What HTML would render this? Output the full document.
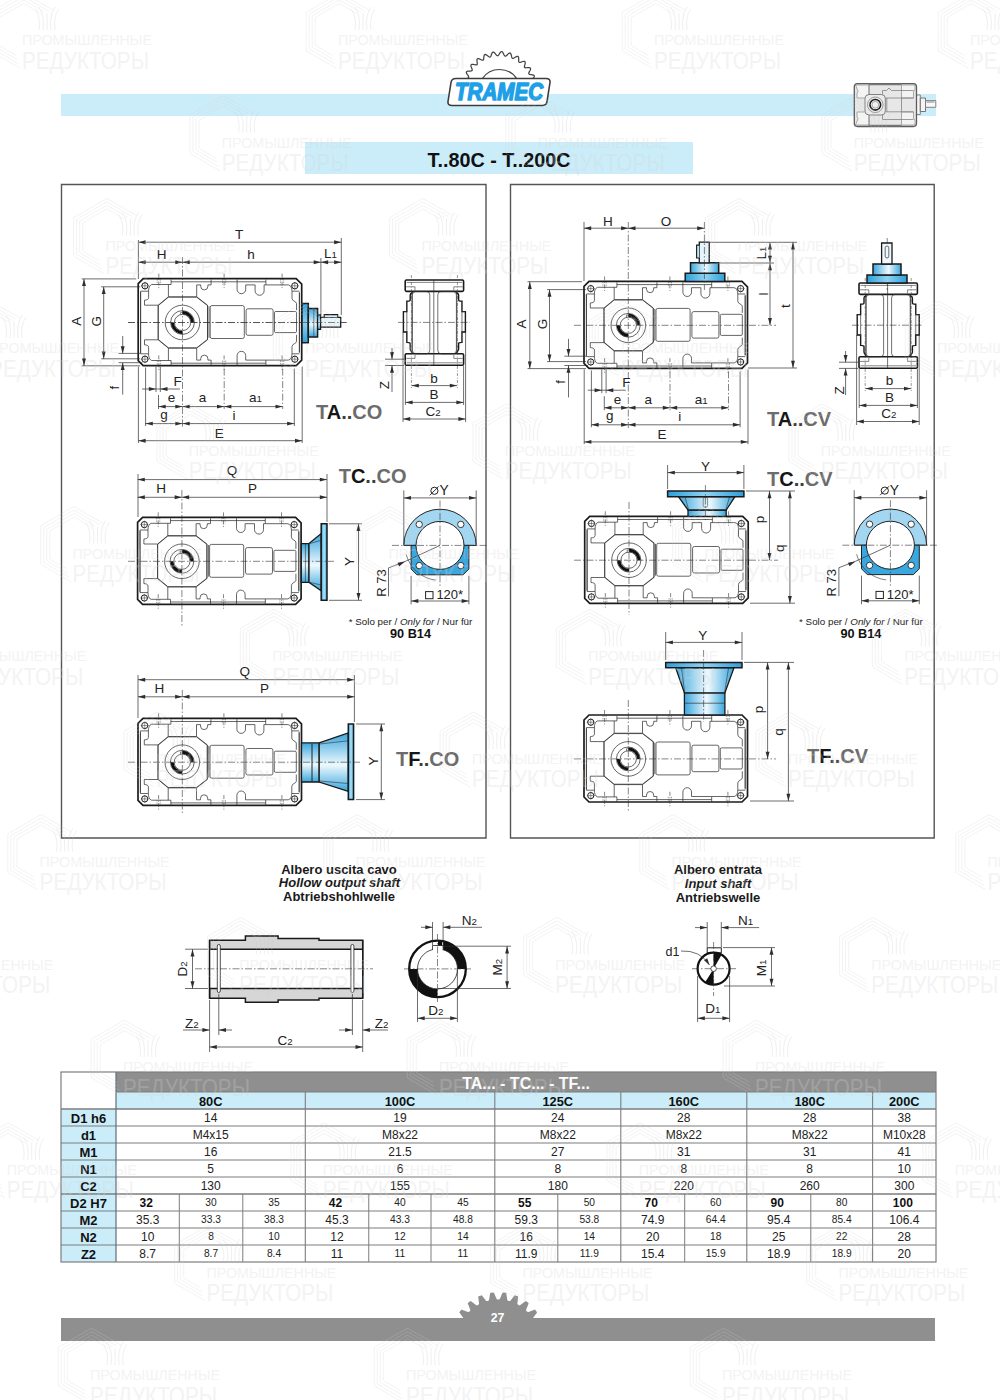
<!DOCTYPE html><html><head><meta charset="utf-8"><style>html,body{margin:0;padding:0;background:#fff;width:1000px;height:1400px;overflow:hidden}svg{display:block;font-family:"Liberation Sans",sans-serif}</style></head><body><svg width="1000" height="1400" viewBox="0 0 1000 1400"><defs><linearGradient id="gv" x1="0" y1="0" x2="0" y2="1"><stop offset="0" stop-color="#3aa6dd"/><stop offset="0.55" stop-color="#eef9fe"/><stop offset="1" stop-color="#3aa6dd"/></linearGradient><linearGradient id="gh" x1="0" y1="0" x2="1" y2="0"><stop offset="0" stop-color="#3aa6dd"/><stop offset="0.55" stop-color="#eef9fe"/><stop offset="1" stop-color="#3aa6dd"/></linearGradient><linearGradient id="gvp" x1="0" y1="0" x2="0" y2="1"><stop offset="0" stop-color="#2e9fd9"/><stop offset="0.5" stop-color="#8fd2f2"/><stop offset="1" stop-color="#2e9fd9"/></linearGradient><linearGradient id="ghp" x1="0" y1="0" x2="1" y2="0"><stop offset="0" stop-color="#2e9fd9"/><stop offset="0.5" stop-color="#8fd2f2"/><stop offset="1" stop-color="#2e9fd9"/></linearGradient><linearGradient id="gpx" x1="0" y1="0" x2="1" y2="0"><stop offset="0" stop-color="#2e9fd9"/><stop offset="0.5" stop-color="#b5e4f7"/><stop offset="1" stop-color="#2e9fd9"/></linearGradient><g id="gbody"><path d="M5,0 H158 L163.5,5.5 V81.5 L158,87 H5 L0,82 V5 Z" fill="#fff" stroke="#1c1c1c" stroke-width="1.7"/><path d="M2.4,12.6 V74.4 M161.2,13.5 V73.5 M32.9,3.2 H127.7 M13.5,5.9 H32.9 V0.9 M2.4,12.6 H10.4 M13.5,5.9 C11.2,6.6 10.4,9.5 10.4,12.6 V19.2 C10.4,21 8.5,21.4 6.3,21.6 V26.6 H20 M20,26.6 L30.2,18.2 H58.5 L69.3,26.6 V60.8 L58.5,69.2 H30.2 L20,60.8 Z M30.2,18.2 V5.9 M58.5,18.2 V6.3 H62.5 V7.7 A3.6,3.6 0 0 0 69.7,7.7 V6.3 H72.9 V0.9 M98.9,0.9 V10.8 A4.3,4.3 0 0 0 107.5,10.8 V6.3 H116.9 V12.2 A4.5,4.5 0 0 0 125.9,12.2 V6.3 H127.7 V0.9 M127.7,6.3 H150.2 C152.5,6.6 153.8,9.5 153.8,12.6 H161.2 M153.8,12.6 V19.8 C153.8,22.6 158.3,22.8 158.3,24.8 V31.5" fill="none" stroke="#333" stroke-width="0.75"/><path d="M2.4,12.6 V74.4 M161.2,13.5 V73.5 M32.9,3.2 H127.7 M13.5,5.9 H32.9 V0.9 M2.4,12.6 H10.4 M13.5,5.9 C11.2,6.6 10.4,9.5 10.4,12.6 V19.2 C10.4,21 8.5,21.4 6.3,21.6 V26.6 H20 M20,26.6 L30.2,18.2 H58.5 L69.3,26.6 V60.8 L58.5,69.2 H30.2 L20,60.8 Z M30.2,18.2 V5.9 M58.5,18.2 V6.3 H62.5 V7.7 A3.6,3.6 0 0 0 69.7,7.7 V6.3 H72.9 V0.9 M127.7,6.3 H150.2 C152.5,6.6 153.8,9.5 153.8,12.6 H161.2 M153.8,12.6 V19.8 C153.8,22.6 158.3,22.8 158.3,24.8 V31.5 M98.9,0.9 V10.8 A4.3,4.3 0 0 0 107.5,10.8 V6.3 H127.7 V0.9" fill="none" stroke="#333" stroke-width="0.75" transform="matrix(1 0 0 -1 0 87.8)"/><rect x="72" y="27" width="34.1" height="32.9" rx="1.8" fill="none" stroke="#333" stroke-width="0.75"/><path d="M70.8,27.6 V59.3" stroke="#333" stroke-width="0.75"/><rect x="107.9" y="30.2" width="27" height="26.5" rx="1.8" fill="none" stroke="#333" stroke-width="0.75"/><rect x="136.3" y="32.9" width="22" height="21.1" rx="1.2" fill="none" stroke="#333" stroke-width="0.75"/><circle cx="44.3" cy="43.9" r="17.3" fill="none" stroke="#333" stroke-width="0.75"/><circle cx="44.3" cy="43.9" r="11.9" fill="none" stroke="#333" stroke-width="0.75"/><circle cx="44.3" cy="43.9" r="8.1" fill="none" stroke="#333" stroke-width="0.75"/><path d="M42.5,36.0 V33.7 H46.099999999999994 V36.0" fill="none" stroke="#333" stroke-width="0.6"/><path d="M44.3,33.9 A10.0,10.0 0 0 1 54.3,43.9" fill="none" stroke="#111" stroke-width="2.9"/><path d="M44.3,53.9 A10.0,10.0 0 0 1 34.3,43.9" fill="none" stroke="#111" stroke-width="2.9"/><circle cx="6.75" cy="7.2" r="3.1" fill="#fff" stroke="#1c1c1c" stroke-width="1"/><path d="M2.75,7.2 H10.75 M6.75,3.2 V11.2" stroke="#333" stroke-width="0.5"/><circle cx="156.6" cy="7.2" r="3.1" fill="#fff" stroke="#1c1c1c" stroke-width="1"/><path d="M152.6,7.2 H160.6 M156.6,3.2 V11.2" stroke="#333" stroke-width="0.5"/><circle cx="6.75" cy="80.6" r="3.1" fill="#fff" stroke="#1c1c1c" stroke-width="1"/><path d="M2.75,80.6 H10.75 M6.75,76.6 V84.6" stroke="#333" stroke-width="0.5"/><circle cx="156.6" cy="80.6" r="3.1" fill="#fff" stroke="#1c1c1c" stroke-width="1"/><path d="M152.6,80.6 H160.6 M156.6,76.6 V84.6" stroke="#333" stroke-width="0.5"/><path d="M20.6,-5 V11 M20.6,76.8 V92" stroke="#333" stroke-width="0.6" stroke-dasharray="4 1.5 1 1.5"/><path d="M19.0,0.5 V6 M22.200000000000003,0.5 V6 M19.0,81.8 V87 M22.200000000000003,81.8 V87" stroke="#333" stroke-width="0.45" stroke-dasharray="1.5 1"/><path d="M85.9,-5 V11 M85.9,76.8 V92" stroke="#333" stroke-width="0.6" stroke-dasharray="4 1.5 1 1.5"/><path d="M84.30000000000001,0.5 V6 M87.5,0.5 V6 M84.30000000000001,81.8 V87 M87.5,81.8 V87" stroke="#333" stroke-width="0.45" stroke-dasharray="1.5 1"/><path d="M143.9,-5 V11 M143.9,76.8 V92" stroke="#333" stroke-width="0.6" stroke-dasharray="4 1.5 1 1.5"/><path d="M142.3,0.5 V6 M145.5,0.5 V6 M142.3,81.8 V87 M145.5,81.8 V87" stroke="#333" stroke-width="0.45" stroke-dasharray="1.5 1"/></g><g id="wm" opacity="0.27"><path d="M30.1,-21.1 L28.6,-22.0 L27.1,-22.8 L25.7,-23.7 L24.3,-24.5 L22.9,-25.3 L21.6,-26.0 L20.3,-26.8 L19.0,-27.5 L17.7,-28.3 L16.4,-29.0 L15.1,-29.8 L13.8,-30.5 L12.5,-31.3 L11.2,-32.0 L9.8,-32.8 L8.5,-33.6 L7.0,-34.4 L5.6,-35.3 L4.1,-36.1 L2.5,-37.0 L0.9,-38.0 L-0.8,-38.0 L-2.4,-37.1 L-4.0,-36.2 L-5.5,-35.3 L-7.0,-34.5 L-8.4,-33.7 L-9.8,-32.9 L-11.1,-32.1 L-12.4,-31.3 L-13.7,-30.6 L-15.0,-29.8 L-16.3,-29.1 L-17.6,-28.3 L-18.9,-27.6 L-20.2,-26.8 L-21.5,-26.1 L-22.9,-25.3 L-24.2,-24.5 L-25.6,-23.7 L-27.1,-22.9 L-28.5,-22.0 L-30.1,-21.1 L-31.7,-20.2 L-33.3,-19.2 L-33.3,-17.3 L-33.3,-15.5 L-33.3,-13.7 L-33.3,-12.0 L-33.3,-10.3 L-33.3,-8.7 L-33.3,-7.2 L-33.3,-5.6 L-33.3,-4.1 L-33.3,-2.6 L-33.3,-1.1 L-33.3,0.4 L-33.3,1.9 L-33.3,3.4 L-33.3,4.9 L-33.3,6.4 L-33.3,8.0 L-33.3,9.6 L-33.3,11.2 L-33.3,12.9 L-33.3,14.6 L-33.3,16.4 L-33.3,18.3 L-32.5,19.8 L-30.8,20.7 L-29.3,21.6 L-27.8,22.5 L-26.3,23.3 L-24.9,24.1 L-23.5,24.9 L-22.2,25.7 L-20.8,26.5 L-19.5,27.2 L-18.2,28.0 L-17.0,28.7 L-15.7,29.5 L-14.4,30.2 L-13.1,31.0 L-11.8,31.7 L-10.4,32.5 L-9.1,33.3 L-7.7,34.1 L-6.2,34.9 L-4.7,35.8 L-3.2,36.6" transform="translate(1.5 -3.5)" fill="none" stroke="#d2d2d2" stroke-width="1"/><path d="M25.2,-20.4 L24.0,-21.2 L22.7,-21.9 L21.5,-22.6 L20.3,-23.3 L19.2,-23.9 L18.0,-24.6 L16.9,-25.3 L15.7,-25.9 L14.6,-26.6 L13.5,-27.2 L12.3,-27.9 L11.2,-28.5 L10.0,-29.2 L8.8,-29.9 L7.6,-30.6 L6.4,-31.3 L5.1,-32.0 L3.8,-32.8 L2.4,-33.6 L1.0,-34.4 L-0.5,-34.7 L-1.9,-33.9 L-3.3,-33.1 L-4.7,-32.3 L-5.9,-31.6 L-7.2,-30.8 L-8.4,-30.1 L-9.6,-29.5 L-10.8,-28.8 L-11.9,-28.1 L-13.1,-27.5 L-14.2,-26.8 L-15.3,-26.1 L-16.5,-25.5 L-17.6,-24.8 L-18.8,-24.2 L-19.9,-23.5 L-21.1,-22.8 L-22.3,-22.1 L-23.5,-21.4 L-24.8,-20.7 L-26.1,-19.9 L-27.4,-19.2 L-28.8,-18.3 L-30.3,-17.5 L-30.3,-15.8 L-30.3,-14.2 L-30.3,-12.6 L-30.3,-11.1 L-30.3,-9.7 L-30.3,-8.2 L-30.3,-6.8 L-30.3,-5.5 L-30.3,-4.2 L-30.3,-2.8 L-30.3,-1.5 L-30.3,-0.2 L-30.3,1.1 L-30.3,2.4 L-30.3,3.7 L-30.3,5.1 L-30.3,6.4 L-30.3,7.8 L-30.3,9.2 L-30.3,10.6 L-30.3,12.1 L-30.3,13.7 L-30.3,15.3 L-30.3,16.9 L-29.3,18.1 L-27.9,18.9 L-26.5,19.7 L-25.2,20.5 L-23.9,21.2 L-22.7,21.9 L-21.5,22.6 L-20.3,23.3 L-19.1,24.0 L-18.0,24.6 L-16.8,25.3 L-15.7,25.9 L-14.6,26.6 L-13.4,27.2 L-12.3,27.9 L-11.2,28.6 L-10.0,29.2 L-8.8,29.9 L-7.6,30.6 L-6.4,31.3 L-5.1,32.1" transform="translate(1.5 -3.5)" fill="none" stroke="#d2d2d2" stroke-width="1"/><path d="M20.9,-19.5 L19.8,-20.1 L18.8,-20.7 L17.7,-21.3 L16.7,-21.8 L15.8,-22.4 L14.8,-23.0 L13.8,-23.5 L12.8,-24.1 L11.8,-24.7 L10.8,-25.2 L9.8,-25.8 L8.8,-26.4 L7.8,-27.0 L6.7,-27.6 L5.7,-28.2 L4.6,-28.9 L3.4,-29.5 L2.2,-30.2 L1.0,-30.9 L-0.3,-31.3 L-1.6,-30.6 L-2.8,-29.9 L-3.9,-29.2 L-5.1,-28.6 L-6.2,-27.9 L-7.2,-27.3 L-8.3,-26.7 L-9.3,-26.1 L-10.3,-25.6 L-11.3,-25.0 L-12.3,-24.4 L-13.3,-23.8 L-14.2,-23.3 L-15.2,-22.7 L-16.2,-22.1 L-17.2,-21.6 L-18.2,-21.0 L-19.2,-20.4 L-20.3,-19.8 L-21.4,-19.2 L-22.5,-18.5 L-23.6,-17.9 L-24.8,-17.2 L-26.0,-16.5 L-27.3,-15.7 L-27.3,-14.3 L-27.3,-12.9 L-27.3,-11.5 L-27.3,-10.2 L-27.3,-8.9 L-27.3,-7.7 L-27.3,-6.5 L-27.3,-5.3 L-27.3,-4.1 L-27.3,-3.0 L-27.3,-1.8 L-27.3,-0.7 L-27.3,0.4 L-27.3,1.6 L-27.3,2.7 L-27.3,3.9 L-27.3,5.0 L-27.3,6.2 L-27.3,7.4 L-27.3,8.6 L-27.3,9.9 L-27.3,11.2 L-27.3,12.5 L-27.3,13.9 L-27.3,15.4 L-26.3,16.3 L-25.1,17.0 L-23.9,17.7 L-22.7,18.4 L-21.6,19.0 L-20.5,19.6 L-19.5,20.2 L-18.5,20.8 L-17.4,21.4 L-16.4,22.0 L-15.5,22.6 L-14.5,23.1 L-13.5,23.7 L-12.5,24.3 L-11.5,24.8 L-10.5,25.4 L-9.5,26.0 L-8.5,26.6 L-7.5,27.2 L-6.4,27.8" transform="translate(1.5 -3.5)" fill="none" stroke="#d2d2d2" stroke-width="1"/><path d="M17.0,-18.2 L16.1,-18.7 L15.2,-19.2 L14.4,-19.7 L13.5,-20.2 L12.7,-20.7 L11.9,-21.2 L11.0,-21.6 L10.2,-22.1 L9.3,-22.6 L8.5,-23.1 L7.6,-23.6 L6.7,-24.1 L5.8,-24.7 L4.9,-25.2 L3.9,-25.7 L2.9,-26.3 L1.9,-26.9 L0.9,-27.5 L-0.2,-27.9 L-1.3,-27.2 L-2.4,-26.6 L-3.4,-26.1 L-4.3,-25.5 L-5.3,-25.0 L-6.2,-24.4 L-7.1,-23.9 L-8.0,-23.4 L-8.8,-22.9 L-9.7,-22.4 L-10.5,-21.9 L-11.4,-21.4 L-12.2,-20.9 L-13.1,-20.5 L-13.9,-20.0 L-14.7,-19.5 L-15.6,-19.0 L-16.5,-18.5 L-17.4,-18.0 L-18.3,-17.5 L-19.2,-16.9 L-20.1,-16.4 L-21.1,-15.8 L-22.1,-15.2 L-23.2,-14.6 L-24.2,-14.0 L-24.2,-12.7 L-24.2,-11.5 L-24.2,-10.4 L-24.2,-9.2 L-24.2,-8.1 L-24.2,-7.1 L-24.2,-6.0 L-24.2,-5.0 L-24.2,-4.0 L-24.2,-3.0 L-24.2,-2.0 L-24.2,-1.1 L-24.2,-0.1 L-24.2,0.9 L-24.2,1.8 L-24.2,2.8 L-24.2,3.8 L-24.2,4.8 L-24.2,5.8 L-24.2,6.9 L-24.2,7.9 L-24.2,9.0 L-24.2,10.1 L-24.2,11.3 L-24.2,12.5 L-24.2,13.7 L-23.4,14.5 L-22.3,15.1 L-21.3,15.7 L-20.3,16.3 L-19.4,16.8 L-18.4,17.3 L-17.5,17.9 L-16.7,18.4 L-15.8,18.9 L-14.9,19.4 L-14.1,19.9 L-13.2,20.4 L-12.4,20.8 L-11.6,21.3 L-10.7,21.8 L-9.9,22.3 L-9.0,22.8 L-8.2,23.3 L-7.3,23.8" transform="translate(1.5 -3.5)" fill="none" stroke="#d2d2d2" stroke-width="1"/><path d="M17,-5 Q19,-18 13,-26 M21,-5 Q23,-19 17,-28 M25,-5 V-22 M29,-5 Q27,-19 33,-28 M33,-5 Q31,-18 37,-26" stroke="#c9c9c9" stroke-width="1" fill="none"/><text x="0" y="10.2" font-size="15" fill="#d4d4d4" textLength="130" lengthAdjust="spacingAndGlyphs">ПРОМЫШЛЕННЫЕ</text><text x="0" y="33.6" font-size="23.5" fill="#d4d4d4" textLength="127" lengthAdjust="spacingAndGlyphs">РЕДУКТОРЫ</text></g></defs><rect x="61" y="94" width="875" height="22" fill="#cbedf9"/><rect x="305" y="142" width="388" height="32" fill="#cbedf9"/><text x="499.00" y="166.60" font-size="19.8" text-anchor="middle" font-weight="bold" font-style="normal" fill="#111">T..80C - T..200C</text><path d="M463.78,79.48 L464.35,79.08 L465.15,78.76 L466.07,78.49 L466.98,78.25 L467.78,77.99 L468.37,77.68 L468.68,77.28 L468.70,76.78 L468.45,76.16 L468.00,75.45 L467.45,74.68 L466.93,73.88 L466.52,73.12 L466.34,72.45 L466.44,71.89 L466.82,71.49 L467.47,71.23 L468.32,71.10 L469.28,71.05 L470.22,71.02 L471.06,70.96 L471.70,70.79 L472.10,70.48 L472.23,69.99 L472.13,69.33 L471.86,68.54 L471.51,67.66 L471.17,66.77 L470.96,65.93 L470.94,65.23 L471.16,64.72 L471.63,64.41 L472.32,64.31 L473.18,64.38 L474.11,64.55 L475.04,64.74 L475.87,64.87 L476.54,64.86 L476.99,64.64 L477.23,64.20 L477.29,63.54 L477.21,62.70 L477.07,61.77 L476.95,60.82 L476.93,59.96 L477.07,59.27 L477.41,58.82 L477.93,58.63 L478.63,58.70 L479.45,58.96 L480.32,59.34 L481.18,59.74 L481.96,60.06 L482.61,60.20 L483.10,60.09 L483.44,59.72 L483.64,59.09 L483.76,58.26 L483.84,57.31 L483.94,56.36 L484.12,55.52 L484.42,54.89 L484.85,54.53 L485.40,54.46 L486.07,54.69 L486.80,55.13 L487.56,55.70 L488.31,56.29 L488.99,56.78 L489.59,57.07 L490.09,57.08 L490.51,56.79 L490.85,56.22 L491.16,55.44 L491.45,54.54 L491.77,53.64 L492.14,52.87 L492.58,52.32 L493.08,52.06 L493.63,52.13 L494.23,52.50 L494.84,53.10 L495.45,53.84 L496.03,54.58 L496.59,55.21 L497.11,55.63 L497.59,55.76 L498.06,55.57 L498.53,55.10 L499.00,54.41 L499.50,53.60 L500.02,52.80 L500.56,52.13 L501.11,51.69 L501.65,51.56 L502.18,51.76 L502.67,52.25 L503.13,52.98 L503.55,53.84 L503.95,54.70 L504.34,55.44 L504.75,55.96 L505.20,56.20 L505.69,56.13 L506.26,55.78 L506.88,55.21 L507.55,54.54 L508.24,53.88 L508.92,53.35 L509.55,53.06 L510.11,53.05 L510.58,53.36 L510.94,53.96 L511.22,54.78 L511.44,55.70 L511.63,56.63 L511.84,57.45 L512.11,58.05 L512.49,58.38 L512.99,58.43 L513.62,58.22 L514.36,57.81 L515.16,57.31 L515.99,56.83 L516.77,56.47 L517.45,56.33 L518.00,56.46 L518.38,56.87 L518.60,57.53 L518.68,58.39 L518.68,59.34 L518.65,60.29 L518.67,61.13 L518.80,61.78 L519.09,62.19 L519.56,62.35 L520.23,62.29 L521.03,62.06 L521.93,61.77 L522.85,61.49 L523.69,61.32 L524.39,61.34 L524.89,61.59 L525.17,62.07 L525.23,62.77 L525.11,63.62 L524.89,64.55 L524.64,65.46 L524.46,66.29 L524.44,66.95 L524.63,67.42 L525.05,67.68 L525.71,67.77 L526.55,67.74 L527.49,67.66 L528.45,67.60 L529.30,67.63 L529.98,67.81 L530.41,68.17 L530.57,68.71 L530.47,69.40 L530.16,70.20 L529.72,71.05 L529.27,71.88 L528.91,72.64 L528.74,73.28 L528.81,73.78 L529.17,74.14 L529.78,74.38 L530.61,74.54 L531.55,74.68 L532.49,74.84 L533.31,75.07 L533.93,75.40 L534.27,75.85 L534.30,76.40 L534.04,77.06 L533.55,77.76 L532.93,78.49 L532.30,79.20" fill="none" stroke="#444" stroke-width="1.25" stroke-linejoin="round"/><path d="M482.3,78.6 A20.8,20.8 0 0 1 516.7,78.6" fill="none" stroke="#444" stroke-width="1.2"/><path d="M456,78.5 H546 Q550.5,78.5 550,82.5 L547,101.5 Q546.5,105.5 542,105.5 H452 Q447.5,105.5 448,101.5 L451,82.5 Q451.5,78.5 456,78.5 Z" fill="#fff" stroke="#3c3c3c" stroke-width="1.6"/><text x="455" y="100.2" font-size="23.5" font-weight="bold" font-style="italic" fill="#1ea0e6" stroke="#1ea0e6" stroke-width="1.5" stroke-linejoin="round" textLength="88" lengthAdjust="spacingAndGlyphs">TRAMEC</text><path d="M916.5,95 H920.3 V114.5 H916.5 Z" fill="#f7f7f7" stroke="#777" stroke-width="0.9"/><path d="M920.3,98 H925.5 V111.5 H920.3 Z" fill="#f4f4f4" stroke="#666" stroke-width="0.9"/><path d="M925.5,100.5 H935.8 V107.3 H925.5 Z" fill="#f8f8f8" stroke="#777" stroke-width="0.9"/><path d="M926.5,100.8 H934.5 V103 H926.5 Z" fill="#bdbdbd"/><rect x="854.3" y="83.6" width="62.2" height="42.9" rx="3.2" fill="#e7e7e7" stroke="#5c5c5c" stroke-width="1.3"/><path d="M869,84.4 H901.5 M869,125.7 H901.5" stroke="#777" stroke-width="1.8"/><path d="M855.5,85 H869 V98 H857 V93 Q859,92 857.5,90 Z" fill="#f4f4f4" stroke="#8a8a8a" stroke-width="0.7"/><path d="M855.5,125 H869 V112 H857 V117 Q859,118 857.5,120 Z" fill="#f4f4f4" stroke="#8a8a8a" stroke-width="0.7"/><path d="M901.5,85 H915 V90 Q913,91 913.5,93 V98 H901.5 Z" fill="#f4f4f4" stroke="#8a8a8a" stroke-width="0.7"/><path d="M901.5,125 H915 V120 Q913,119 913.5,117 V112 H901.5 Z" fill="#f4f4f4" stroke="#8a8a8a" stroke-width="0.7"/><path d="M869,84 V94.5 M869,115 V126 M882.5,94.5 V90.5 H886.5 L889,88 L891.5,90.5 H913.5 M882.5,115 V119.5 H913.5 M885.3,98 H913.5 M885.3,111.8 H913.5 M886.8,98 V111.8 M901.5,98 V111.8" fill="none" stroke="#7c7c7c" stroke-width="0.75"/><rect x="865" y="94.5" width="20.3" height="20.5" rx="4" fill="#ececec" stroke="#666" stroke-width="0.8"/><circle cx="875.3" cy="104.8" r="7.8" fill="#e9e9e9" stroke="#777" stroke-width="0.7"/><circle cx="875.3" cy="104.8" r="5.3" fill="#fff" stroke="#1a1a1a" stroke-width="1.6"/><circle cx="875.3" cy="104.8" r="3.4" fill="#f2f2f2" stroke="#555" stroke-width="0.5"/><path d="M61.5,184.5 H486 V838 H61.5 Z" fill="none" stroke="#555" stroke-width="1.4"/><path d="M510.5,184.5 H934.2 V838 H510.5 Z" fill="none" stroke="#555" stroke-width="1.4"/><use href="#gbody" x="138.20" y="278.60"/><line x1="128.00" y1="322.50" x2="347.00" y2="322.50" stroke="#333" stroke-width="0.6" stroke-dasharray="7 2 1.5 2"/><line x1="182.50" y1="257.00" x2="182.50" y2="428.00" stroke="#333" stroke-width="0.6" stroke-dasharray="7 2 1.5 2"/><path d="M302,303.5 H308.3 V342.8 H302 Z" fill="url(#gvp)" stroke="#1a1a1a" stroke-width="1.5"/><path d="M308.3,308.6 H317.6 V337.1 H308.3 Z" fill="url(#gv)" stroke="#1a1a1a" stroke-width="1.5"/><path d="M317.6,314.9 H320.6 V329.3 H317.6 Z" fill="url(#gv)" stroke="#1a1a1a" stroke-width="1.2"/><path d="M320.6,317.3 H340.7 V327.2 H320.6 Z" fill="#e8f6fc" stroke="#1a1a1a" stroke-width="1.3"/><path d="M324.2,317.3 V314.6 H337.7 V317.3" fill="#d8eef8" stroke="#1a1a1a" stroke-width="1.1"/><line x1="313.80" y1="309.00" x2="313.80" y2="336.60" stroke="#333" stroke-width="0.6"/><line x1="128.00" y1="322.50" x2="346.00" y2="322.50" stroke="#333" stroke-width="0.6" stroke-dasharray="7 2 1.5 2"/><line x1="138.40" y1="240.00" x2="138.40" y2="279.00" stroke="#2e2e2e" stroke-width="0.7"/><line x1="341.30" y1="238.00" x2="341.30" y2="315.00" stroke="#2e2e2e" stroke-width="0.7"/><line x1="320.90" y1="258.00" x2="320.90" y2="315.00" stroke="#2e2e2e" stroke-width="0.7"/><line x1="138.40" y1="242.20" x2="341.30" y2="242.20" stroke="#2e2e2e" stroke-width="0.7"/><path d="M138.40,242.20 L145.60,240.25 L145.60,244.15 Z" fill="#2e2e2e"/><path d="M341.30,242.20 L334.10,244.15 L334.10,240.25 Z" fill="#2e2e2e"/><line x1="138.40" y1="262.20" x2="182.50" y2="262.20" stroke="#2e2e2e" stroke-width="0.7"/><path d="M138.40,262.20 L145.60,260.25 L145.60,264.15 Z" fill="#2e2e2e"/><path d="M182.50,262.20 L175.30,264.15 L175.30,260.25 Z" fill="#2e2e2e"/><line x1="182.50" y1="262.20" x2="320.90" y2="262.20" stroke="#2e2e2e" stroke-width="0.7"/><path d="M182.50,262.20 L189.70,260.25 L189.70,264.15 Z" fill="#2e2e2e"/><path d="M320.90,262.20 L313.70,264.15 L313.70,260.25 Z" fill="#2e2e2e"/><line x1="320.90" y1="262.20" x2="341.30" y2="262.20" stroke="#2e2e2e" stroke-width="0.7"/><path d="M320.90,262.20 L328.10,260.25 L328.10,264.15 Z" fill="#2e2e2e"/><path d="M341.30,262.20 L334.10,264.15 L334.10,260.25 Z" fill="#2e2e2e"/><text x="239.00" y="239.30" font-size="13.5" text-anchor="middle" font-weight="normal" font-style="normal" fill="#222">T</text><text x="161.60" y="258.90" font-size="13.5" text-anchor="middle" font-weight="normal" font-style="normal" fill="#222">H</text><text x="251.00" y="258.90" font-size="13.5" text-anchor="middle" font-weight="normal" font-style="normal" fill="#222">h</text><text x="330.50" y="257.60" font-size="13.5" text-anchor="middle" fill="#222">L<tspan font-size="9.7">1</tspan></text><line x1="84.00" y1="278.90" x2="84.00" y2="365.80" stroke="#2e2e2e" stroke-width="0.7"/><path d="M84.00,278.90 L85.95,286.10 L82.05,286.10 Z" fill="#2e2e2e"/><path d="M84.00,365.80 L82.05,358.60 L85.95,358.60 Z" fill="#2e2e2e"/><line x1="81.70" y1="278.90" x2="136.20" y2="278.90" stroke="#2e2e2e" stroke-width="0.7"/><line x1="81.70" y1="365.80" x2="140.20" y2="365.80" stroke="#2e2e2e" stroke-width="0.7"/><text x="80.60" y="321.20" font-size="13.5" text-anchor="middle" font-weight="normal" font-style="normal" fill="#222" transform="rotate(-90 80.60 321.20)">A</text><line x1="103.70" y1="286.80" x2="103.70" y2="358.80" stroke="#2e2e2e" stroke-width="0.7"/><path d="M103.70,286.80 L105.65,294.00 L101.75,294.00 Z" fill="#2e2e2e"/><path d="M103.70,358.80 L101.75,351.60 L105.65,351.60 Z" fill="#2e2e2e"/><line x1="101.20" y1="286.80" x2="140.20" y2="286.80" stroke="#2e2e2e" stroke-width="0.7"/><line x1="101.20" y1="358.80" x2="140.20" y2="358.80" stroke="#2e2e2e" stroke-width="0.7"/><text x="100.70" y="321.20" font-size="13.5" text-anchor="middle" font-weight="normal" font-style="normal" fill="#222" transform="rotate(-90 100.70 321.20)">G</text><line x1="122.70" y1="336.10" x2="122.70" y2="353.40" stroke="#2e2e2e" stroke-width="0.7"/><path d="M122.70,353.40 L120.75,346.20 L124.65,346.20 Z" fill="#2e2e2e"/><line x1="122.70" y1="362.70" x2="122.70" y2="394.60" stroke="#2e2e2e" stroke-width="0.7"/><path d="M122.70,362.70 L124.65,369.90 L120.75,369.90 Z" fill="#2e2e2e"/><line x1="118.60" y1="353.40" x2="140.20" y2="353.40" stroke="#2e2e2e" stroke-width="0.7"/><line x1="118.60" y1="362.70" x2="142.20" y2="362.70" stroke="#2e2e2e" stroke-width="0.7"/><text x="118.70" y="387.60" font-size="13" text-anchor="middle" font-weight="normal" font-style="normal" fill="#222" transform="rotate(-90 118.70 387.60)">f</text><line x1="138.40" y1="366.60" x2="138.40" y2="443.00" stroke="#2e2e2e" stroke-width="0.7"/><line x1="145.60" y1="367.60" x2="145.60" y2="426.00" stroke="#2e2e2e" stroke-width="0.7"/><line x1="156.00" y1="366.60" x2="156.00" y2="392.00" stroke="#2e2e2e" stroke-width="0.7"/><line x1="160.30" y1="366.60" x2="160.30" y2="392.00" stroke="#2e2e2e" stroke-width="0.7"/><line x1="158.50" y1="395.00" x2="158.50" y2="409.00" stroke="#2e2e2e" stroke-width="0.7"/><line x1="294.30" y1="368.60" x2="294.30" y2="426.00" stroke="#2e2e2e" stroke-width="0.7"/><line x1="302.20" y1="366.60" x2="302.20" y2="443.00" stroke="#2e2e2e" stroke-width="0.7"/><line x1="224.20" y1="368.60" x2="224.20" y2="409.00" stroke="#333" stroke-width="0.6" stroke-dasharray="7 2 1.5 2"/><line x1="282.70" y1="368.60" x2="282.70" y2="409.00" stroke="#333" stroke-width="0.6" stroke-dasharray="7 2 1.5 2"/><line x1="142.00" y1="389.00" x2="180.00" y2="389.00" stroke="#2e2e2e" stroke-width="0.7"/><path d="M156.00,389.00 L148.80,390.95 L148.80,387.05 Z" fill="#2e2e2e"/><path d="M160.30,389.00 L167.50,387.05 L167.50,390.95 Z" fill="#2e2e2e"/><text x="177.50" y="385.50" font-size="13.5" text-anchor="middle" font-weight="normal" font-style="normal" fill="#222">F</text><line x1="158.50" y1="406.60" x2="182.50" y2="406.60" stroke="#2e2e2e" stroke-width="0.7"/><path d="M158.50,406.60 L165.70,404.65 L165.70,408.55 Z" fill="#2e2e2e"/><path d="M182.50,406.60 L175.30,408.55 L175.30,404.65 Z" fill="#2e2e2e"/><line x1="182.50" y1="406.60" x2="224.20" y2="406.60" stroke="#2e2e2e" stroke-width="0.7"/><path d="M182.50,406.60 L189.70,404.65 L189.70,408.55 Z" fill="#2e2e2e"/><path d="M224.20,406.60 L217.00,408.55 L217.00,404.65 Z" fill="#2e2e2e"/><line x1="224.20" y1="406.60" x2="282.70" y2="406.60" stroke="#2e2e2e" stroke-width="0.7"/><path d="M224.20,406.60 L231.40,404.65 L231.40,408.55 Z" fill="#2e2e2e"/><path d="M282.70,406.60 L275.50,408.55 L275.50,404.65 Z" fill="#2e2e2e"/><line x1="145.60" y1="423.60" x2="182.50" y2="423.60" stroke="#2e2e2e" stroke-width="0.7"/><path d="M145.60,423.60 L152.80,421.65 L152.80,425.55 Z" fill="#2e2e2e"/><path d="M182.50,423.60 L175.30,425.55 L175.30,421.65 Z" fill="#2e2e2e"/><line x1="182.50" y1="423.60" x2="294.30" y2="423.60" stroke="#2e2e2e" stroke-width="0.7"/><path d="M182.50,423.60 L189.70,421.65 L189.70,425.55 Z" fill="#2e2e2e"/><path d="M294.30,423.60 L287.10,425.55 L287.10,421.65 Z" fill="#2e2e2e"/><line x1="138.40" y1="440.70" x2="302.20" y2="440.70" stroke="#2e2e2e" stroke-width="0.7"/><path d="M138.40,440.70 L145.60,438.75 L145.60,442.65 Z" fill="#2e2e2e"/><path d="M302.20,440.70 L295.00,442.65 L295.00,438.75 Z" fill="#2e2e2e"/><text x="171.60" y="402.30" font-size="13.5" text-anchor="middle" font-weight="normal" font-style="normal" fill="#222">e</text><text x="202.40" y="402.30" font-size="13.5" text-anchor="middle" font-weight="normal" font-style="normal" fill="#222">a</text><text x="255.50" y="402.30" font-size="13.5" text-anchor="middle" fill="#222">a<tspan font-size="9.7">1</tspan></text><text x="164.00" y="419.20" font-size="13.5" text-anchor="middle" font-weight="normal" font-style="normal" fill="#222">g</text><text x="234.00" y="419.50" font-size="13.5" text-anchor="middle" font-weight="normal" font-style="normal" fill="#222">i</text><text x="219.30" y="437.80" font-size="13.5" text-anchor="middle" font-weight="normal" font-style="normal" fill="#222">E</text><g transform="translate(405.2 280)"><rect x="0" y="0" width="58.4" height="11.4" rx="1.3" fill="#fff" stroke="#1a1a1a" stroke-width="1.6"/><rect x="0" y="73.8" width="58.4" height="11.4" rx="1.3" fill="#fff" stroke="#1a1a1a" stroke-width="1.6"/><path d="M6.76,11.4 V13.2 C5,13.5 5,14 5,15 V20 C5,21 4,21.2 1.64,21.2 V31.6 H-1.8 V52 H1.64 V62.4 C4,62.4 5,62.6 5,63.6 V69 C5,70 5.5,70.5 6.76,72.4 V73.8" fill="none" stroke="#1a1a1a" stroke-width="1.4"/><path d="M6.76,11.4 V13.2 C5,13.5 5,14 5,15 V20 C5,21 4,21.2 1.64,21.2 V31.6 H-1.8 V52 H1.64 V62.4 C4,62.4 5,62.6 5,63.6 V69 C5,70 5.5,70.5 6.76,72.4 V73.8" fill="none" stroke="#1a1a1a" stroke-width="1.4" transform="matrix(-1 0 0 1 58.4 0)"/><path d="M-1.8,31.6 H1.64 V52 H-1.8 M60.2,31.6 H56.76 V52 H60.2" fill="none" stroke="#333" stroke-width="0.7"/><path d="M6.76,11.4 V73.8 M51.64,11.4 V73.8 M28.6,0 V85.2" stroke="#333" stroke-width="0.7"/><rect x="7.2" y="11.4" width="17.4" height="62.4" rx="3.5" fill="none" stroke="#333" stroke-width="0.7"/><rect x="32.6" y="11.4" width="18.6" height="62.4" rx="3.5" fill="none" stroke="#333" stroke-width="0.7"/><path d="M1,6.8 H9.8 V10.6 M57.4,6.8 H48.6 V10.6 M1,78.4 H9.8 V74.6 M57.4,78.4 H48.6 V74.6 M1.5,2.4 H57 M1.5,82.8 H57" fill="none" stroke="#333" stroke-width="0.6"/><path d="M6.2,-5 V108 M52.2,-5 V108" stroke="#444" stroke-width="0.55" stroke-dasharray="3 1.5 1 1.5"/></g><line x1="398.00" y1="322.40" x2="470.00" y2="322.40" stroke="#333" stroke-width="0.6" stroke-dasharray="7 2 1.5 2"/><line x1="392.00" y1="348.00" x2="392.00" y2="359.20" stroke="#2e2e2e" stroke-width="0.7"/><path d="M392.00,359.20 L390.05,352.00 L393.95,352.00 Z" fill="#2e2e2e"/><line x1="392.00" y1="365.50" x2="392.00" y2="392.00" stroke="#2e2e2e" stroke-width="0.7"/><path d="M392.00,365.50 L393.95,372.70 L390.05,372.70 Z" fill="#2e2e2e"/><line x1="385.00" y1="359.20" x2="404.00" y2="359.20" stroke="#2e2e2e" stroke-width="0.7"/><line x1="385.00" y1="365.50" x2="404.00" y2="365.50" stroke="#2e2e2e" stroke-width="0.7"/><text x="389.00" y="385.20" font-size="13.5" text-anchor="middle" font-weight="normal" font-style="normal" fill="#222" transform="rotate(-90 389.00 385.20)">Z</text><line x1="403.00" y1="332.00" x2="403.00" y2="422.00" stroke="#2e2e2e" stroke-width="0.7"/><line x1="465.60" y1="332.00" x2="465.60" y2="422.00" stroke="#2e2e2e" stroke-width="0.7"/><line x1="405.40" y1="366.00" x2="405.40" y2="405.00" stroke="#2e2e2e" stroke-width="0.7"/><line x1="463.60" y1="366.00" x2="463.60" y2="405.00" stroke="#2e2e2e" stroke-width="0.7"/><line x1="411.60" y1="385.60" x2="457.00" y2="385.60" stroke="#2e2e2e" stroke-width="0.7"/><path d="M411.60,385.60 L418.80,383.65 L418.80,387.55 Z" fill="#2e2e2e"/><path d="M457.00,385.60 L449.80,387.55 L449.80,383.65 Z" fill="#2e2e2e"/><line x1="405.40" y1="402.40" x2="463.60" y2="402.40" stroke="#2e2e2e" stroke-width="0.7"/><path d="M405.40,402.40 L412.60,400.45 L412.60,404.35 Z" fill="#2e2e2e"/><path d="M463.60,402.40 L456.40,404.35 L456.40,400.45 Z" fill="#2e2e2e"/><line x1="403.00" y1="419.00" x2="465.60" y2="419.00" stroke="#2e2e2e" stroke-width="0.7"/><path d="M403.00,419.00 L410.20,417.05 L410.20,420.95 Z" fill="#2e2e2e"/><path d="M465.60,419.00 L458.40,420.95 L458.40,417.05 Z" fill="#2e2e2e"/><text x="434.00" y="382.60" font-size="13.5" text-anchor="middle" font-weight="normal" font-style="normal" fill="#222">b</text><text x="434.00" y="398.80" font-size="13.5" text-anchor="middle" font-weight="normal" font-style="normal" fill="#222">B</text><text x="433.00" y="415.80" font-size="13.5" text-anchor="middle" fill="#222">C<tspan font-size="9.7">2</tspan></text><text x="316.00" y="419.00" font-size="20" font-weight="bold" fill="#6c6c6c">T<tspan fill="#161616">A</tspan><tspan fill="#3c3c3c">..</tspan>CO</text><use href="#gbody" x="137.60" y="517.40"/><line x1="181.90" y1="490.00" x2="181.90" y2="626.00" stroke="#333" stroke-width="0.6" stroke-dasharray="7 2 1.5 2"/><path d="M301.3,543.6 H309 V582.3 H301.3 Z" fill="url(#gv)" stroke="#1a1a1a" stroke-width="1.3"/><path d="M309,543.6 L321.2,533.6 V590.8 L309,582.3 Z" fill="url(#gv)" stroke="#1a1a1a" stroke-width="1.3"/><path d="M309.6,543.6 L321,540.3 M309.6,582.3 L321,585" stroke="#333" stroke-width="0.6"/><path d="M321.2,523.8 H327 V600.3 H321.2 Z" fill="url(#gpx)" stroke="#1a1a1a" stroke-width="1.5"/><line x1="305.40" y1="544.00" x2="305.40" y2="582.00" stroke="#333" stroke-width="0.6"/><line x1="138.00" y1="474.00" x2="138.00" y2="517.00" stroke="#2e2e2e" stroke-width="0.7"/><line x1="327.00" y1="474.00" x2="327.00" y2="522.00" stroke="#2e2e2e" stroke-width="0.7"/><line x1="137.60" y1="479.60" x2="327.00" y2="479.60" stroke="#2e2e2e" stroke-width="0.7"/><path d="M137.60,479.60 L144.80,477.65 L144.80,481.55 Z" fill="#2e2e2e"/><path d="M327.00,479.60 L319.80,481.55 L319.80,477.65 Z" fill="#2e2e2e"/><line x1="137.60" y1="497.30" x2="181.90" y2="497.30" stroke="#2e2e2e" stroke-width="0.7"/><path d="M137.60,497.30 L144.80,495.35 L144.80,499.25 Z" fill="#2e2e2e"/><path d="M181.90,497.30 L174.70,499.25 L174.70,495.35 Z" fill="#2e2e2e"/><line x1="181.90" y1="497.30" x2="327.00" y2="497.30" stroke="#2e2e2e" stroke-width="0.7"/><path d="M181.90,497.30 L189.10,495.35 L189.10,499.25 Z" fill="#2e2e2e"/><path d="M327.00,497.30 L319.80,499.25 L319.80,495.35 Z" fill="#2e2e2e"/><text x="232.00" y="475.00" font-size="13.5" text-anchor="middle" font-weight="normal" font-style="normal" fill="#222">Q</text><text x="161.00" y="493.00" font-size="13.5" text-anchor="middle" font-weight="normal" font-style="normal" fill="#222">H</text><text x="252.50" y="493.00" font-size="13.5" text-anchor="middle" font-weight="normal" font-style="normal" fill="#222">P</text><line x1="358.50" y1="523.80" x2="358.50" y2="600.30" stroke="#2e2e2e" stroke-width="0.7"/><path d="M358.50,523.80 L360.45,531.00 L356.55,531.00 Z" fill="#2e2e2e"/><path d="M358.50,600.30 L356.55,593.10 L360.45,593.10 Z" fill="#2e2e2e"/><line x1="329.00" y1="523.80" x2="362.00" y2="523.80" stroke="#2e2e2e" stroke-width="0.7"/><line x1="329.00" y1="600.30" x2="362.00" y2="600.30" stroke="#2e2e2e" stroke-width="0.7"/><text x="354.50" y="561.40" font-size="13.5" text-anchor="middle" font-weight="normal" font-style="normal" fill="#222" transform="rotate(-90 354.50 561.40)">Y</text><line x1="128.00" y1="561.30" x2="334.00" y2="561.30" stroke="#333" stroke-width="0.6" stroke-dasharray="7 2 1.5 2"/><text x="338.70" y="483.00" font-size="20" font-weight="bold" fill="#6c6c6c">T<tspan fill="#161616">C</tspan><tspan fill="#3c3c3c">..</tspan>CO</text><path d="M403.8,545.4 A36.2,36.2 0 0 1 476.2,545.4 Z" fill="#a3d7f1" stroke="#222" stroke-width="1"/><path d="M411.1,545.4 V569.0 L416.90000000000003,574.8 H463.09999999999997 L468.9,569.0 V545.4 Z" fill="#3ba7df" stroke="#222" stroke-width="1"/><circle cx="440" cy="545.4" r="24.0" fill="#fff" stroke="#222" stroke-width="1"/><circle cx="419.2" cy="524.4" r="3.2" fill="#fff" stroke="#222" stroke-width="0.9"/><circle cx="460.8" cy="524.4" r="3.2" fill="#fff" stroke="#222" stroke-width="0.9"/><circle cx="419.2" cy="565.6" r="3.2" fill="#fff" stroke="#222" stroke-width="0.9"/><circle cx="460.8" cy="565.6" r="3.2" fill="#fff" stroke="#222" stroke-width="0.9"/><line x1="440.00" y1="500.40" x2="440.00" y2="587.40" stroke="#333" stroke-width="0.6" stroke-dasharray="7 2 1.5 2"/><line x1="392.00" y1="545.40" x2="488.00" y2="545.40" stroke="#333" stroke-width="0.6" stroke-dasharray="7 2 1.5 2"/><line x1="403.80" y1="497.90" x2="476.20" y2="497.90" stroke="#2e2e2e" stroke-width="0.7"/><path d="M403.80,497.90 L411.00,495.95 L411.00,499.85 Z" fill="#2e2e2e"/><path d="M476.20,497.90 L469.00,499.85 L469.00,495.95 Z" fill="#2e2e2e"/><line x1="403.80" y1="490.40" x2="403.80" y2="544.40" stroke="#2e2e2e" stroke-width="0.7"/><line x1="476.20" y1="490.40" x2="476.20" y2="544.40" stroke="#2e2e2e" stroke-width="0.7"/><circle cx="434.4" cy="490.79999999999995" r="3.6" fill="none" stroke="#222" stroke-width="1"/><line x1="429.70" y1="495.40" x2="438.70" y2="486.40" stroke="#222" stroke-width="0.9"/><text x="439.40" y="495.10" font-size="13.8" text-anchor="start" font-weight="normal" font-style="normal" fill="#222">Y</text><line x1="440.00" y1="545.40" x2="404.90" y2="561.60" stroke="#2e2e2e" stroke-width="0.7"/><path d="M404.90,561.60 L399.17,566.40 L397.54,562.85 Z" fill="#2e2e2e"/><path d="M404.9,561.6 L388.5,567.9 V596.4" fill="none" stroke="#2e2e2e" stroke-width="0.7"/><path d="M406.19,554.46 A35,35 0 0 0 435.73,580.14" fill="none" stroke="#2e2e2e" stroke-width="0.6"/><text x="385.70" y="582.90" font-size="13" text-anchor="middle" font-weight="normal" font-style="normal" fill="#222" transform="rotate(-90 385.70 582.90)">R 73</text><line x1="411.10" y1="601.00" x2="468.90" y2="601.00" stroke="#2e2e2e" stroke-width="0.7"/><path d="M411.10,601.00 L418.30,599.05 L418.30,602.95 Z" fill="#2e2e2e"/><path d="M468.90,601.00 L461.70,602.95 L461.70,599.05 Z" fill="#2e2e2e"/><line x1="411.10" y1="575.80" x2="411.10" y2="604.40" stroke="#2e2e2e" stroke-width="0.7"/><line x1="468.90" y1="575.80" x2="468.90" y2="604.40" stroke="#2e2e2e" stroke-width="0.7"/><rect x="425.6" y="591.6" width="7.4" height="7.1" fill="none" stroke="#222" stroke-width="1"/><text x="436.40" y="598.70" font-size="13" text-anchor="start" font-weight="normal" font-style="normal" fill="#222">120*</text><text x="410.5" y="624.6999999999999" font-size="9.8" text-anchor="middle" fill="#222">* Solo per / <tspan font-style="italic">Only for</tspan> / Nur für</text><text x="410.50" y="638.00" font-size="12.7" text-anchor="middle" font-weight="bold" font-style="normal" fill="#111">90 B14</text><use href="#gbody" x="138.00" y="718.30"/><line x1="182.30" y1="690.00" x2="182.30" y2="815.00" stroke="#333" stroke-width="0.6" stroke-dasharray="7 2 1.5 2"/><path d="M301.5,742.9 H319.2 V782 H301.5 Z" fill="url(#gv)" stroke="#1a1a1a" stroke-width="1.3"/><line x1="312.00" y1="743.50" x2="312.00" y2="781.50" stroke="#222" stroke-width="1.0"/><path d="M319.2,742.9 L348.3,733 V791.3 L319.2,782 Z" fill="url(#gv)" stroke="#1a1a1a" stroke-width="1.3"/><path d="M319.6,744 L348,740.8 M319.6,781 L348,783.5" stroke="#333" stroke-width="0.6"/><path d="M348.3,724 H353.6 V799.6 H348.3 Z" fill="url(#gpx)" stroke="#1a1a1a" stroke-width="1.5"/><line x1="138.00" y1="675.00" x2="138.00" y2="718.00" stroke="#2e2e2e" stroke-width="0.7"/><line x1="354.40" y1="675.00" x2="354.40" y2="722.00" stroke="#2e2e2e" stroke-width="0.7"/><line x1="138.00" y1="679.70" x2="354.40" y2="679.70" stroke="#2e2e2e" stroke-width="0.7"/><path d="M138.00,679.70 L145.20,677.75 L145.20,681.65 Z" fill="#2e2e2e"/><path d="M354.40,679.70 L347.20,681.65 L347.20,677.75 Z" fill="#2e2e2e"/><line x1="138.00" y1="696.80" x2="182.30" y2="696.80" stroke="#2e2e2e" stroke-width="0.7"/><path d="M138.00,696.80 L145.20,694.85 L145.20,698.75 Z" fill="#2e2e2e"/><path d="M182.30,696.80 L175.10,698.75 L175.10,694.85 Z" fill="#2e2e2e"/><line x1="182.30" y1="696.80" x2="354.40" y2="696.80" stroke="#2e2e2e" stroke-width="0.7"/><path d="M182.30,696.80 L189.50,694.85 L189.50,698.75 Z" fill="#2e2e2e"/><path d="M354.40,696.80 L347.20,698.75 L347.20,694.85 Z" fill="#2e2e2e"/><text x="244.80" y="675.50" font-size="13.5" text-anchor="middle" font-weight="normal" font-style="normal" fill="#222">Q</text><text x="159.40" y="693.30" font-size="13.5" text-anchor="middle" font-weight="normal" font-style="normal" fill="#222">H</text><text x="264.50" y="693.30" font-size="13.5" text-anchor="middle" font-weight="normal" font-style="normal" fill="#222">P</text><line x1="381.30" y1="724.00" x2="381.30" y2="799.60" stroke="#2e2e2e" stroke-width="0.7"/><path d="M381.30,724.00 L383.25,731.20 L379.35,731.20 Z" fill="#2e2e2e"/><path d="M381.30,799.60 L379.35,792.40 L383.25,792.40 Z" fill="#2e2e2e"/><line x1="356.00" y1="724.00" x2="385.00" y2="724.00" stroke="#2e2e2e" stroke-width="0.7"/><line x1="356.00" y1="799.60" x2="385.00" y2="799.60" stroke="#2e2e2e" stroke-width="0.7"/><text x="378.00" y="761.00" font-size="13.5" text-anchor="middle" font-weight="normal" font-style="normal" fill="#222" transform="rotate(-90 378.00 761.00)">Y</text><line x1="128.00" y1="762.20" x2="362.00" y2="762.20" stroke="#333" stroke-width="0.6" stroke-dasharray="7 2 1.5 2"/><text x="396.00" y="765.50" font-size="20" font-weight="bold" fill="#6c6c6c">T<tspan fill="#161616">F</tspan><tspan fill="#3c3c3c">..</tspan>CO</text><use href="#gbody" x="584.00" y="281.40"/><line x1="574.00" y1="325.30" x2="776.00" y2="325.30" stroke="#333" stroke-width="0.6" stroke-dasharray="7 2 1.5 2"/><line x1="628.30" y1="222.00" x2="628.30" y2="428.00" stroke="#333" stroke-width="0.6" stroke-dasharray="7 2 1.5 2"/><path d="M685.1999999999999,273.29999999999995 H724.8 V281.4 H685.1999999999999 Z" fill="url(#ghp)" stroke="#1a1a1a" stroke-width="1.5"/><path d="M690.5,262.79999999999995 H718.6999999999999 V273.29999999999995 H690.5 Z" fill="url(#gh)" stroke="#1a1a1a" stroke-width="1.5"/><path d="M699.3,242.09999999999997 H709.1999999999999 V262.79999999999995 H699.3 Z" fill="#e6f5fc" stroke="#1a1a1a" stroke-width="1.3"/><path d="M699.3,245.09999999999997 H696.6 V258.0 H699.3" fill="#bfe6f7" stroke="#1a1a1a" stroke-width="1.1"/><line x1="704.40" y1="222.00" x2="704.40" y2="290.00" stroke="#333" stroke-width="0.6" stroke-dasharray="7 2 1.5 2"/><line x1="584.00" y1="222.00" x2="584.00" y2="281.00" stroke="#2e2e2e" stroke-width="0.7"/><line x1="584.00" y1="228.20" x2="628.30" y2="228.20" stroke="#2e2e2e" stroke-width="0.7"/><path d="M584.00,228.20 L591.20,226.25 L591.20,230.15 Z" fill="#2e2e2e"/><path d="M628.30,228.20 L621.10,230.15 L621.10,226.25 Z" fill="#2e2e2e"/><line x1="628.30" y1="228.20" x2="704.40" y2="228.20" stroke="#2e2e2e" stroke-width="0.7"/><path d="M628.30,228.20 L635.50,226.25 L635.50,230.15 Z" fill="#2e2e2e"/><path d="M704.40,228.20 L697.20,230.15 L697.20,226.25 Z" fill="#2e2e2e"/><text x="607.80" y="225.80" font-size="13.5" text-anchor="middle" font-weight="normal" font-style="normal" fill="#222">H</text><text x="666.00" y="225.80" font-size="13.5" text-anchor="middle" font-weight="normal" font-style="normal" fill="#222">O</text><line x1="710.00" y1="242.30" x2="797.00" y2="242.30" stroke="#2e2e2e" stroke-width="0.7"/><line x1="719.50" y1="263.00" x2="774.00" y2="263.00" stroke="#2e2e2e" stroke-width="0.7"/><line x1="748.00" y1="368.00" x2="797.00" y2="368.00" stroke="#2e2e2e" stroke-width="0.7"/><line x1="770.00" y1="242.30" x2="770.00" y2="263.00" stroke="#2e2e2e" stroke-width="0.7"/><path d="M770.00,242.30 L771.95,249.50 L768.05,249.50 Z" fill="#2e2e2e"/><path d="M770.00,263.00 L768.05,255.80 L771.95,255.80 Z" fill="#2e2e2e"/><line x1="770.00" y1="263.00" x2="770.00" y2="325.30" stroke="#2e2e2e" stroke-width="0.7"/><path d="M770.00,263.00 L771.95,270.20 L768.05,270.20 Z" fill="#2e2e2e"/><path d="M770.00,325.30 L768.05,318.10 L771.95,318.10 Z" fill="#2e2e2e"/><line x1="793.00" y1="242.30" x2="793.00" y2="368.00" stroke="#2e2e2e" stroke-width="0.7"/><path d="M793.00,242.30 L794.95,249.50 L791.05,249.50 Z" fill="#2e2e2e"/><path d="M793.00,368.00 L791.05,360.80 L794.95,360.80 Z" fill="#2e2e2e"/><text x="766.00" y="253.00" font-size="13" text-anchor="middle" fill="#222" transform="rotate(-90 766.00 253.00)">L<tspan font-size="9.4">1</tspan></text><text x="768.00" y="294.00" font-size="13.5" text-anchor="middle" font-weight="normal" font-style="normal" fill="#222" transform="rotate(-90 768.00 294.00)">l</text><text x="789.50" y="306.00" font-size="13.5" text-anchor="middle" font-weight="normal" font-style="normal" fill="#222" transform="rotate(-90 789.50 306.00)">t</text><line x1="529.80" y1="281.70" x2="529.80" y2="368.60" stroke="#2e2e2e" stroke-width="0.7"/><path d="M529.80,281.70 L531.75,288.90 L527.85,288.90 Z" fill="#2e2e2e"/><path d="M529.80,368.60 L527.85,361.40 L531.75,361.40 Z" fill="#2e2e2e"/><line x1="527.50" y1="281.70" x2="582.00" y2="281.70" stroke="#2e2e2e" stroke-width="0.7"/><line x1="527.50" y1="368.60" x2="586.00" y2="368.60" stroke="#2e2e2e" stroke-width="0.7"/><text x="526.40" y="324.00" font-size="13.5" text-anchor="middle" font-weight="normal" font-style="normal" fill="#222" transform="rotate(-90 526.40 324.00)">A</text><line x1="549.50" y1="289.60" x2="549.50" y2="361.60" stroke="#2e2e2e" stroke-width="0.7"/><path d="M549.50,289.60 L551.45,296.80 L547.55,296.80 Z" fill="#2e2e2e"/><path d="M549.50,361.60 L547.55,354.40 L551.45,354.40 Z" fill="#2e2e2e"/><line x1="547.00" y1="289.60" x2="586.00" y2="289.60" stroke="#2e2e2e" stroke-width="0.7"/><line x1="547.00" y1="361.60" x2="586.00" y2="361.60" stroke="#2e2e2e" stroke-width="0.7"/><text x="546.50" y="324.00" font-size="13.5" text-anchor="middle" font-weight="normal" font-style="normal" fill="#222" transform="rotate(-90 546.50 324.00)">G</text><line x1="568.50" y1="338.90" x2="568.50" y2="356.20" stroke="#2e2e2e" stroke-width="0.7"/><path d="M568.50,356.20 L566.55,349.00 L570.45,349.00 Z" fill="#2e2e2e"/><line x1="568.50" y1="365.50" x2="568.50" y2="397.40" stroke="#2e2e2e" stroke-width="0.7"/><path d="M568.50,365.50 L570.45,372.70 L566.55,372.70 Z" fill="#2e2e2e"/><line x1="564.40" y1="356.20" x2="586.00" y2="356.20" stroke="#2e2e2e" stroke-width="0.7"/><line x1="564.40" y1="365.50" x2="588.00" y2="365.50" stroke="#2e2e2e" stroke-width="0.7"/><text x="564.50" y="382.00" font-size="13" text-anchor="middle" font-weight="normal" font-style="normal" fill="#222" transform="rotate(-90 564.50 382.00)">f</text><line x1="584.20" y1="369.40" x2="584.20" y2="444.20" stroke="#2e2e2e" stroke-width="0.7"/><line x1="591.40" y1="370.40" x2="591.40" y2="427.20" stroke="#2e2e2e" stroke-width="0.7"/><line x1="601.80" y1="369.40" x2="601.80" y2="393.20" stroke="#2e2e2e" stroke-width="0.7"/><line x1="606.10" y1="369.40" x2="606.10" y2="393.20" stroke="#2e2e2e" stroke-width="0.7"/><line x1="604.30" y1="396.20" x2="604.30" y2="410.20" stroke="#2e2e2e" stroke-width="0.7"/><line x1="740.10" y1="371.40" x2="740.10" y2="427.20" stroke="#2e2e2e" stroke-width="0.7"/><line x1="748.00" y1="369.40" x2="748.00" y2="444.20" stroke="#2e2e2e" stroke-width="0.7"/><line x1="670.00" y1="371.40" x2="670.00" y2="410.20" stroke="#333" stroke-width="0.6" stroke-dasharray="7 2 1.5 2"/><line x1="728.50" y1="371.40" x2="728.50" y2="410.20" stroke="#333" stroke-width="0.6" stroke-dasharray="7 2 1.5 2"/><line x1="587.80" y1="390.20" x2="625.80" y2="390.20" stroke="#2e2e2e" stroke-width="0.7"/><path d="M601.80,390.20 L594.60,392.15 L594.60,388.25 Z" fill="#2e2e2e"/><path d="M606.10,390.20 L613.30,388.25 L613.30,392.15 Z" fill="#2e2e2e"/><text x="626.30" y="386.70" font-size="13.5" text-anchor="middle" font-weight="normal" font-style="normal" fill="#222">F</text><line x1="604.30" y1="407.80" x2="628.30" y2="407.80" stroke="#2e2e2e" stroke-width="0.7"/><path d="M604.30,407.80 L611.50,405.85 L611.50,409.75 Z" fill="#2e2e2e"/><path d="M628.30,407.80 L621.10,409.75 L621.10,405.85 Z" fill="#2e2e2e"/><line x1="628.30" y1="407.80" x2="670.00" y2="407.80" stroke="#2e2e2e" stroke-width="0.7"/><path d="M628.30,407.80 L635.50,405.85 L635.50,409.75 Z" fill="#2e2e2e"/><path d="M670.00,407.80 L662.80,409.75 L662.80,405.85 Z" fill="#2e2e2e"/><line x1="670.00" y1="407.80" x2="728.50" y2="407.80" stroke="#2e2e2e" stroke-width="0.7"/><path d="M670.00,407.80 L677.20,405.85 L677.20,409.75 Z" fill="#2e2e2e"/><path d="M728.50,407.80 L721.30,409.75 L721.30,405.85 Z" fill="#2e2e2e"/><line x1="591.40" y1="424.80" x2="628.30" y2="424.80" stroke="#2e2e2e" stroke-width="0.7"/><path d="M591.40,424.80 L598.60,422.85 L598.60,426.75 Z" fill="#2e2e2e"/><path d="M628.30,424.80 L621.10,426.75 L621.10,422.85 Z" fill="#2e2e2e"/><line x1="628.30" y1="424.80" x2="740.10" y2="424.80" stroke="#2e2e2e" stroke-width="0.7"/><path d="M628.30,424.80 L635.50,422.85 L635.50,426.75 Z" fill="#2e2e2e"/><path d="M740.10,424.80 L732.90,426.75 L732.90,422.85 Z" fill="#2e2e2e"/><line x1="584.20" y1="441.90" x2="748.00" y2="441.90" stroke="#2e2e2e" stroke-width="0.7"/><path d="M584.20,441.90 L591.40,439.95 L591.40,443.85 Z" fill="#2e2e2e"/><path d="M748.00,441.90 L740.80,443.85 L740.80,439.95 Z" fill="#2e2e2e"/><text x="617.40" y="403.50" font-size="13.5" text-anchor="middle" font-weight="normal" font-style="normal" fill="#222">e</text><text x="648.20" y="403.50" font-size="13.5" text-anchor="middle" font-weight="normal" font-style="normal" fill="#222">a</text><text x="701.30" y="403.50" font-size="13.5" text-anchor="middle" fill="#222">a<tspan font-size="9.7">1</tspan></text><text x="609.80" y="420.40" font-size="13.5" text-anchor="middle" font-weight="normal" font-style="normal" fill="#222">g</text><text x="679.80" y="420.70" font-size="13.5" text-anchor="middle" font-weight="normal" font-style="normal" fill="#222">i</text><text x="662.10" y="439.00" font-size="13.5" text-anchor="middle" font-weight="normal" font-style="normal" fill="#222">E</text><g transform="translate(859 283)"><rect x="0" y="0" width="58.4" height="11.4" rx="1.3" fill="#fff" stroke="#1a1a1a" stroke-width="1.6"/><rect x="0" y="73.8" width="58.4" height="11.4" rx="1.3" fill="#fff" stroke="#1a1a1a" stroke-width="1.6"/><path d="M6.76,11.4 V13.2 C5,13.5 5,14 5,15 V20 C5,21 4,21.2 1.64,21.2 V31.6 H-1.8 V52 H1.64 V62.4 C4,62.4 5,62.6 5,63.6 V69 C5,70 5.5,70.5 6.76,72.4 V73.8" fill="none" stroke="#1a1a1a" stroke-width="1.4"/><path d="M6.76,11.4 V13.2 C5,13.5 5,14 5,15 V20 C5,21 4,21.2 1.64,21.2 V31.6 H-1.8 V52 H1.64 V62.4 C4,62.4 5,62.6 5,63.6 V69 C5,70 5.5,70.5 6.76,72.4 V73.8" fill="none" stroke="#1a1a1a" stroke-width="1.4" transform="matrix(-1 0 0 1 58.4 0)"/><path d="M-1.8,31.6 H1.64 V52 H-1.8 M60.2,31.6 H56.76 V52 H60.2" fill="none" stroke="#333" stroke-width="0.7"/><path d="M6.76,11.4 V73.8 M51.64,11.4 V73.8 M28.6,0 V85.2" stroke="#333" stroke-width="0.7"/><rect x="7.2" y="11.4" width="17.4" height="62.4" rx="3.5" fill="none" stroke="#333" stroke-width="0.7"/><rect x="32.6" y="11.4" width="18.6" height="62.4" rx="3.5" fill="none" stroke="#333" stroke-width="0.7"/><path d="M1,6.8 H9.8 V10.6 M57.4,6.8 H48.6 V10.6 M1,78.4 H9.8 V74.6 M57.4,78.4 H48.6 V74.6 M1.5,2.4 H57 M1.5,82.8 H57" fill="none" stroke="#333" stroke-width="0.6"/><path d="M6.2,-5 V108 M52.2,-5 V108" stroke="#444" stroke-width="0.55" stroke-dasharray="3 1.5 1 1.5"/></g><line x1="852.00" y1="325.20" x2="922.00" y2="325.20" stroke="#333" stroke-width="0.6" stroke-dasharray="7 2 1.5 2"/><line x1="887.20" y1="238.00" x2="887.20" y2="290.00" stroke="#333" stroke-width="0.6" stroke-dasharray="7 2 1.5 2"/><path d="M867,275 H907 V283 H867 Z" fill="url(#ghp)" stroke="#1a1a1a" stroke-width="1.5"/><path d="M873,264 H901 V275 H873 Z" fill="url(#gh)" stroke="#1a1a1a" stroke-width="1.5"/><path d="M881.6,243 H892 V264 H881.6 Z" fill="#eef8fd" stroke="#1a1a1a" stroke-width="1.3"/><rect x="885.2" y="246" width="3.6" height="12" rx="1.8" fill="none" stroke="#333" stroke-width="0.7"/><line x1="845.60" y1="351.00" x2="845.60" y2="362.20" stroke="#2e2e2e" stroke-width="0.7"/><path d="M845.60,362.20 L843.65,355.00 L847.55,355.00 Z" fill="#2e2e2e"/><line x1="845.60" y1="368.40" x2="845.60" y2="395.00" stroke="#2e2e2e" stroke-width="0.7"/><path d="M845.60,368.40 L847.55,375.60 L843.65,375.60 Z" fill="#2e2e2e"/><line x1="839.00" y1="362.20" x2="858.00" y2="362.20" stroke="#2e2e2e" stroke-width="0.7"/><line x1="839.00" y1="368.40" x2="858.00" y2="368.40" stroke="#2e2e2e" stroke-width="0.7"/><text x="844.00" y="390.30" font-size="13.5" text-anchor="middle" font-weight="normal" font-style="normal" fill="#222" transform="rotate(-90 844.00 390.30)">Z</text><line x1="856.60" y1="335.00" x2="856.60" y2="425.00" stroke="#2e2e2e" stroke-width="0.7"/><line x1="919.20" y1="335.00" x2="919.20" y2="425.00" stroke="#2e2e2e" stroke-width="0.7"/><line x1="859.20" y1="369.00" x2="859.20" y2="408.00" stroke="#2e2e2e" stroke-width="0.7"/><line x1="917.40" y1="369.00" x2="917.40" y2="408.00" stroke="#2e2e2e" stroke-width="0.7"/><line x1="865.40" y1="388.60" x2="911.20" y2="388.60" stroke="#2e2e2e" stroke-width="0.7"/><path d="M865.40,388.60 L872.60,386.65 L872.60,390.55 Z" fill="#2e2e2e"/><path d="M911.20,388.60 L904.00,390.55 L904.00,386.65 Z" fill="#2e2e2e"/><line x1="859.20" y1="405.40" x2="917.40" y2="405.40" stroke="#2e2e2e" stroke-width="0.7"/><path d="M859.20,405.40 L866.40,403.45 L866.40,407.35 Z" fill="#2e2e2e"/><path d="M917.40,405.40 L910.20,407.35 L910.20,403.45 Z" fill="#2e2e2e"/><line x1="856.60" y1="421.50" x2="919.20" y2="421.50" stroke="#2e2e2e" stroke-width="0.7"/><path d="M856.60,421.50 L863.80,419.55 L863.80,423.45 Z" fill="#2e2e2e"/><path d="M919.20,421.50 L912.00,423.45 L912.00,419.55 Z" fill="#2e2e2e"/><text x="889.60" y="385.40" font-size="13.5" text-anchor="middle" font-weight="normal" font-style="normal" fill="#222">b</text><text x="889.60" y="401.60" font-size="13.5" text-anchor="middle" font-weight="normal" font-style="normal" fill="#222">B</text><text x="888.80" y="418.20" font-size="13.5" text-anchor="middle" fill="#222">C<tspan font-size="9.7">2</tspan></text><text x="767.00" y="426.00" font-size="20" font-weight="bold" fill="#6c6c6c">T<tspan fill="#161616">A</tspan><tspan fill="#3c3c3c">..</tspan>CV</text><use href="#gbody" x="584.70" y="516.30"/><line x1="574.00" y1="560.20" x2="778.00" y2="560.20" stroke="#333" stroke-width="0.6" stroke-dasharray="7 2 1.5 2"/><line x1="629.00" y1="502.00" x2="629.00" y2="615.00" stroke="#333" stroke-width="0.6" stroke-dasharray="7 2 1.5 2"/><path d="M688,510 H726.2 V516.3 H688 Z" fill="url(#gh)" stroke="#1a1a1a" stroke-width="1.3"/><path d="M678.4,496.7 H735 L726.2,510 H688 Z" fill="url(#gh)" stroke="#1a1a1a" stroke-width="1.3"/><path d="M685,497 L688.6,509.6 M729.5,497 L725.8,509.6" stroke="#333" stroke-width="0.6"/><rect x="703.2" y="497.5" width="4.4" height="9.5" rx="1.5" fill="none" stroke="#444" stroke-width="0.6"/><path d="M667.6,491 H743.9 V496.7 H667.6 Z" fill="url(#ghp)" stroke="#1a1a1a" stroke-width="1.5"/><line x1="705.40" y1="485.00" x2="705.40" y2="520.00" stroke="#333" stroke-width="0.6" stroke-dasharray="7 2 1.5 2"/><line x1="667.60" y1="465.00" x2="667.60" y2="489.00" stroke="#2e2e2e" stroke-width="0.7"/><line x1="743.90" y1="465.00" x2="743.90" y2="489.00" stroke="#2e2e2e" stroke-width="0.7"/><line x1="667.60" y1="472.60" x2="743.90" y2="472.60" stroke="#2e2e2e" stroke-width="0.7"/><path d="M667.60,472.60 L674.80,470.65 L674.80,474.55 Z" fill="#2e2e2e"/><path d="M743.90,472.60 L736.70,474.55 L736.70,470.65 Z" fill="#2e2e2e"/><text x="705.40" y="470.50" font-size="13.5" text-anchor="middle" font-weight="normal" font-style="normal" fill="#222">Y</text><line x1="746.00" y1="491.00" x2="795.00" y2="491.00" stroke="#2e2e2e" stroke-width="0.7"/><line x1="750.00" y1="603.20" x2="795.00" y2="603.20" stroke="#2e2e2e" stroke-width="0.7"/><line x1="769.50" y1="491.00" x2="769.50" y2="560.20" stroke="#2e2e2e" stroke-width="0.7"/><path d="M769.50,491.00 L771.45,498.20 L767.55,498.20 Z" fill="#2e2e2e"/><path d="M769.50,560.20 L767.55,553.00 L771.45,553.00 Z" fill="#2e2e2e"/><line x1="789.90" y1="491.00" x2="789.90" y2="603.20" stroke="#2e2e2e" stroke-width="0.7"/><path d="M789.90,491.00 L791.85,498.20 L787.95,498.20 Z" fill="#2e2e2e"/><path d="M789.90,603.20 L787.95,596.00 L791.85,596.00 Z" fill="#2e2e2e"/><text x="764.00" y="519.50" font-size="13.5" text-anchor="middle" font-weight="normal" font-style="normal" fill="#222" transform="rotate(-90 764.00 519.50)">p</text><text x="784.00" y="548.30" font-size="13.5" text-anchor="middle" font-weight="normal" font-style="normal" fill="#222" transform="rotate(-90 784.00 548.30)">q</text><text x="767.00" y="486.00" font-size="20" font-weight="bold" fill="#6c6c6c">T<tspan fill="#161616">C</tspan><tspan fill="#3c3c3c">..</tspan>CV</text><path d="M854.1999999999999,545.2 A36.2,36.2 0 0 1 926.6,545.2 Z" fill="#a3d7f1" stroke="#222" stroke-width="1"/><path d="M861.5,545.2 V568.8000000000001 L867.3,574.6 H913.5 L919.3,568.8000000000001 V545.2 Z" fill="#3ba7df" stroke="#222" stroke-width="1"/><circle cx="890.4" cy="545.2" r="24.0" fill="#fff" stroke="#222" stroke-width="1"/><circle cx="869.6" cy="524.2" r="3.2" fill="#fff" stroke="#222" stroke-width="0.9"/><circle cx="911.1999999999999" cy="524.2" r="3.2" fill="#fff" stroke="#222" stroke-width="0.9"/><circle cx="869.6" cy="565.4000000000001" r="3.2" fill="#fff" stroke="#222" stroke-width="0.9"/><circle cx="911.1999999999999" cy="565.4000000000001" r="3.2" fill="#fff" stroke="#222" stroke-width="0.9"/><line x1="890.40" y1="500.20" x2="890.40" y2="587.20" stroke="#333" stroke-width="0.6" stroke-dasharray="7 2 1.5 2"/><line x1="842.40" y1="545.20" x2="938.40" y2="545.20" stroke="#333" stroke-width="0.6" stroke-dasharray="7 2 1.5 2"/><line x1="854.20" y1="497.70" x2="926.60" y2="497.70" stroke="#2e2e2e" stroke-width="0.7"/><path d="M854.20,497.70 L861.40,495.75 L861.40,499.65 Z" fill="#2e2e2e"/><path d="M926.60,497.70 L919.40,499.65 L919.40,495.75 Z" fill="#2e2e2e"/><line x1="854.20" y1="490.20" x2="854.20" y2="544.20" stroke="#2e2e2e" stroke-width="0.7"/><line x1="926.60" y1="490.20" x2="926.60" y2="544.20" stroke="#2e2e2e" stroke-width="0.7"/><circle cx="884.8" cy="490.6" r="3.6" fill="none" stroke="#222" stroke-width="1"/><line x1="880.10" y1="495.20" x2="889.10" y2="486.20" stroke="#222" stroke-width="0.9"/><text x="889.80" y="494.90" font-size="13.8" text-anchor="start" font-weight="normal" font-style="normal" fill="#222">Y</text><line x1="890.40" y1="545.20" x2="855.30" y2="561.40" stroke="#2e2e2e" stroke-width="0.7"/><path d="M855.30,561.40 L849.57,566.20 L847.94,562.65 Z" fill="#2e2e2e"/><path d="M855.3,561.4000000000001 L838.9,567.7 V596.2" fill="none" stroke="#2e2e2e" stroke-width="0.7"/><path d="M856.59,554.26 A35,35 0 0 0 886.13,579.94" fill="none" stroke="#2e2e2e" stroke-width="0.6"/><text x="836.10" y="582.70" font-size="13" text-anchor="middle" font-weight="normal" font-style="normal" fill="#222" transform="rotate(-90 836.10 582.70)">R 73</text><line x1="861.50" y1="600.80" x2="919.30" y2="600.80" stroke="#2e2e2e" stroke-width="0.7"/><path d="M861.50,600.80 L868.70,598.85 L868.70,602.75 Z" fill="#2e2e2e"/><path d="M919.30,600.80 L912.10,602.75 L912.10,598.85 Z" fill="#2e2e2e"/><line x1="861.50" y1="575.60" x2="861.50" y2="604.20" stroke="#2e2e2e" stroke-width="0.7"/><line x1="919.30" y1="575.60" x2="919.30" y2="604.20" stroke="#2e2e2e" stroke-width="0.7"/><rect x="876.0" y="591.4000000000001" width="7.4" height="7.1" fill="none" stroke="#222" stroke-width="1"/><text x="886.80" y="598.50" font-size="13" text-anchor="start" font-weight="normal" font-style="normal" fill="#222">120*</text><text x="860.9" y="624.5" font-size="9.8" text-anchor="middle" fill="#222">* Solo per / <tspan font-style="italic">Only for</tspan> / Nur für</text><text x="860.90" y="637.80" font-size="12.7" text-anchor="middle" font-weight="bold" font-style="normal" fill="#111">90 B14</text><use href="#gbody" x="584.00" y="715.00"/><line x1="574.00" y1="758.90" x2="776.00" y2="758.90" stroke="#333" stroke-width="0.6" stroke-dasharray="7 2 1.5 2"/><line x1="628.30" y1="700.00" x2="628.30" y2="812.00" stroke="#333" stroke-width="0.6" stroke-dasharray="7 2 1.5 2"/><path d="M684.4,692.8 H724.9 V715 H684.4 Z" fill="url(#gh)" stroke="#1a1a1a" stroke-width="1.3"/><line x1="684.80" y1="703.20" x2="724.50" y2="703.20" stroke="#333" stroke-width="0.7"/><path d="M675.6,667.7 H734 L724.9,692.8 H684.4 Z" fill="url(#gh)" stroke="#1a1a1a" stroke-width="1.3"/><path d="M681.5,668 L684.6,692 M728.5,668 L724.7,692" stroke="#333" stroke-width="0.6"/><path d="M665.7,662.4 H742 V667.7 H665.7 Z" fill="url(#ghp)" stroke="#1a1a1a" stroke-width="1.5"/><line x1="703.60" y1="650.00" x2="703.60" y2="722.00" stroke="#333" stroke-width="0.6" stroke-dasharray="7 2 1.5 2"/><line x1="665.70" y1="632.00" x2="665.70" y2="660.00" stroke="#2e2e2e" stroke-width="0.7"/><line x1="742.00" y1="632.00" x2="742.00" y2="660.00" stroke="#2e2e2e" stroke-width="0.7"/><line x1="665.70" y1="642.40" x2="742.00" y2="642.40" stroke="#2e2e2e" stroke-width="0.7"/><path d="M665.70,642.40 L672.90,640.45 L672.90,644.35 Z" fill="#2e2e2e"/><path d="M742.00,642.40 L734.80,644.35 L734.80,640.45 Z" fill="#2e2e2e"/><text x="702.80" y="639.80" font-size="13.5" text-anchor="middle" font-weight="normal" font-style="normal" fill="#222">Y</text><line x1="744.00" y1="662.40" x2="794.00" y2="662.40" stroke="#2e2e2e" stroke-width="0.7"/><line x1="750.00" y1="801.00" x2="794.00" y2="801.00" stroke="#2e2e2e" stroke-width="0.7"/><line x1="767.60" y1="662.40" x2="767.60" y2="758.90" stroke="#2e2e2e" stroke-width="0.7"/><path d="M767.60,662.40 L769.55,669.60 L765.65,669.60 Z" fill="#2e2e2e"/><path d="M767.60,758.90 L765.65,751.70 L769.55,751.70 Z" fill="#2e2e2e"/><line x1="788.40" y1="662.40" x2="788.40" y2="801.00" stroke="#2e2e2e" stroke-width="0.7"/><path d="M788.40,662.40 L790.35,669.60 L786.45,669.60 Z" fill="#2e2e2e"/><path d="M788.40,801.00 L786.45,793.80 L790.35,793.80 Z" fill="#2e2e2e"/><text x="762.80" y="709.50" font-size="13.5" text-anchor="middle" font-weight="normal" font-style="normal" fill="#222" transform="rotate(-90 762.80 709.50)">p</text><text x="782.50" y="732.00" font-size="13.5" text-anchor="middle" font-weight="normal" font-style="normal" fill="#222" transform="rotate(-90 782.50 732.00)">q</text><text x="807.00" y="762.60" font-size="20" font-weight="bold" fill="#6c6c6c">T<tspan fill="#161616">F</tspan><tspan fill="#3c3c3c">..</tspan>CV</text><text x="339.00" y="873.70" font-size="13" text-anchor="middle" font-weight="bold" font-style="normal" fill="#1a1a1a">Albero uscita cavo</text><text x="339.50" y="887.20" font-size="13" text-anchor="middle" font-weight="bold" font-style="italic" fill="#1a1a1a">Hollow output shaft</text><text x="339.00" y="900.70" font-size="13" text-anchor="middle" font-weight="bold" font-style="normal" fill="#1a1a1a">Abtriebshohlwelle</text><text x="718.00" y="874.00" font-size="13" text-anchor="middle" font-weight="bold" font-style="normal" fill="#1a1a1a">Albero entrata</text><text x="718.00" y="888.40" font-size="13" text-anchor="middle" font-weight="bold" font-style="italic" fill="#1a1a1a">Input shaft</text><text x="718.00" y="902.00" font-size="13" text-anchor="middle" font-weight="bold" font-style="normal" fill="#1a1a1a">Antriebswelle</text><path d="M209.6,940.2 H245.4 V936.1 H278.1 V938.4 H319 V940.2 H362.7 V998.2 H319 V1000 H278.1 V1002.3 H245.4 V998.2 H209.6 Z" fill="#d6d6d6" stroke="#1a1a1a" stroke-width="1.5"/><rect x="209.6" y="949.2" width="153.1" height="39.3" fill="#fff"/><path d="M209.6,949.2 H362.7 M209.6,988.5 H362.7 M209.6,940 V998.4 M362.7,940 V998.4" stroke="#1a1a1a" stroke-width="1.4"/><rect x="217.3" y="944.5" width="3" height="48" rx="1.5" fill="#fff" stroke="#222" stroke-width="0.8"/><rect x="350.9" y="944.5" width="3" height="48" rx="1.5" fill="#fff" stroke="#222" stroke-width="0.8"/><line x1="195.00" y1="968.80" x2="373.00" y2="968.80" stroke="#333" stroke-width="0.6" stroke-dasharray="7 2 1.5 2"/><line x1="192.50" y1="949.20" x2="192.50" y2="988.50" stroke="#2e2e2e" stroke-width="0.7"/><path d="M192.50,949.20 L194.45,956.40 L190.55,956.40 Z" fill="#2e2e2e"/><path d="M192.50,988.50 L190.55,981.30 L194.45,981.30 Z" fill="#2e2e2e"/><line x1="185.00" y1="949.20" x2="208.00" y2="949.20" stroke="#2e2e2e" stroke-width="0.7"/><line x1="185.00" y1="988.50" x2="208.00" y2="988.50" stroke="#2e2e2e" stroke-width="0.7"/><text x="187.50" y="968.80" font-size="13.5" text-anchor="middle" fill="#222" transform="rotate(-90 187.50 968.80)">D<tspan font-size="9.7">2</tspan></text><line x1="209.60" y1="1000.00" x2="209.60" y2="1052.00" stroke="#2e2e2e" stroke-width="0.7"/><line x1="362.70" y1="1000.00" x2="362.70" y2="1052.00" stroke="#2e2e2e" stroke-width="0.7"/><line x1="218.80" y1="994.00" x2="218.80" y2="1035.00" stroke="#2e2e2e" stroke-width="0.7"/><line x1="352.40" y1="994.00" x2="352.40" y2="1035.00" stroke="#2e2e2e" stroke-width="0.7"/><line x1="183.00" y1="1030.00" x2="209.60" y2="1030.00" stroke="#2e2e2e" stroke-width="0.7"/><path d="M209.60,1030.00 L202.40,1031.95 L202.40,1028.05 Z" fill="#2e2e2e"/><line x1="218.80" y1="1030.00" x2="232.00" y2="1030.00" stroke="#2e2e2e" stroke-width="0.7"/><path d="M218.80,1030.00 L226.00,1028.05 L226.00,1031.95 Z" fill="#2e2e2e"/><line x1="339.00" y1="1030.00" x2="352.40" y2="1030.00" stroke="#2e2e2e" stroke-width="0.7"/><path d="M352.40,1030.00 L345.20,1031.95 L345.20,1028.05 Z" fill="#2e2e2e"/><line x1="362.70" y1="1030.00" x2="388.00" y2="1030.00" stroke="#2e2e2e" stroke-width="0.7"/><path d="M362.70,1030.00 L369.90,1028.05 L369.90,1031.95 Z" fill="#2e2e2e"/><text x="191.80" y="1028.00" font-size="13.5" text-anchor="middle" fill="#222">Z<tspan font-size="9.7">2</tspan></text><text x="381.60" y="1028.00" font-size="13.5" text-anchor="middle" fill="#222">Z<tspan font-size="9.7">2</tspan></text><line x1="209.60" y1="1047.00" x2="362.70" y2="1047.00" stroke="#2e2e2e" stroke-width="0.7"/><path d="M209.60,1047.00 L216.80,1045.05 L216.80,1048.95 Z" fill="#2e2e2e"/><path d="M362.70,1047.00 L355.50,1048.95 L355.50,1045.05 Z" fill="#2e2e2e"/><text x="285.00" y="1044.50" font-size="13.5" text-anchor="middle" fill="#222">C<tspan font-size="9.7">2</tspan></text><circle cx="437.5" cy="968.9" r="24.15" fill="none" stroke="#fff" stroke-width="8.3"/><path d="M443.1,940.9 A28.3,28.3 0 0 1 465.8,968.9 H457.5 A20.0,20.0 0 0 0 443.1,949.6999999999999 Z" fill="#111"/><path d="M437.5,997.1999999999999 A28.3,28.3 0 0 1 409.2,968.9 H417.5 A20.0,20.0 0 0 0 437.5,988.9 Z" fill="#111"/><circle cx="437.5" cy="968.9" r="28.3" fill="none" stroke="#111" stroke-width="2.3"/><circle cx="437.5" cy="968.9" r="20.0" fill="none" stroke="#222" stroke-width="0.8"/><path d="M432.5,950 V945.5 H443.1 V950" fill="#fff" stroke="#222" stroke-width="0.8"/><rect x="438" y="941" width="4" height="4.5" fill="#111"/><line x1="404.00" y1="968.90" x2="471.00" y2="968.90" stroke="#333" stroke-width="0.6" stroke-dasharray="7 2 1.5 2"/><line x1="437.50" y1="934.00" x2="437.50" y2="1002.00" stroke="#333" stroke-width="0.6" stroke-dasharray="7 2 1.5 2"/><line x1="432.50" y1="922.00" x2="432.50" y2="945.00" stroke="#2e2e2e" stroke-width="0.7"/><line x1="443.10" y1="922.00" x2="443.10" y2="945.00" stroke="#2e2e2e" stroke-width="0.7"/><line x1="421.00" y1="927.30" x2="432.50" y2="927.30" stroke="#2e2e2e" stroke-width="0.7"/><path d="M432.50,927.30 L425.30,929.25 L425.30,925.35 Z" fill="#2e2e2e"/><line x1="443.10" y1="927.30" x2="482.00" y2="927.30" stroke="#2e2e2e" stroke-width="0.7"/><path d="M443.10,927.30 L450.30,925.35 L450.30,929.25 Z" fill="#2e2e2e"/><text x="469.30" y="924.50" font-size="13.5" text-anchor="middle" fill="#222">N<tspan font-size="9.7">2</tspan></text><line x1="444.00" y1="946.20" x2="511.00" y2="946.20" stroke="#2e2e2e" stroke-width="0.7"/><line x1="438.00" y1="988.50" x2="511.00" y2="988.50" stroke="#2e2e2e" stroke-width="0.7"/><line x1="507.10" y1="946.20" x2="507.10" y2="988.50" stroke="#2e2e2e" stroke-width="0.7"/><path d="M507.10,946.20 L509.05,953.40 L505.15,953.40 Z" fill="#2e2e2e"/><path d="M507.10,988.50 L505.15,981.30 L509.05,981.30 Z" fill="#2e2e2e"/><text x="502.00" y="967.20" font-size="13.5" text-anchor="middle" fill="#222" transform="rotate(-90 502.00 967.20)">M<tspan font-size="9.7">2</tspan></text><line x1="417.50" y1="970.00" x2="417.50" y2="1022.00" stroke="#2e2e2e" stroke-width="0.7"/><line x1="457.40" y1="970.00" x2="457.40" y2="1022.00" stroke="#2e2e2e" stroke-width="0.7"/><line x1="417.50" y1="1018.30" x2="457.40" y2="1018.30" stroke="#2e2e2e" stroke-width="0.7"/><path d="M417.50,1018.30 L424.70,1016.35 L424.70,1020.25 Z" fill="#2e2e2e"/><path d="M457.40,1018.30 L450.20,1020.25 L450.20,1016.35 Z" fill="#2e2e2e"/><text x="435.70" y="1014.50" font-size="13.5" text-anchor="middle" fill="#222">D<tspan font-size="9.7">2</tspan></text><rect x="707.2" y="947.8" width="14.1" height="5" fill="#fff" stroke="#222" stroke-width="1"/><circle cx="713.6" cy="968.7" r="16.0" fill="#fff" stroke="#111" stroke-width="2.2"/><path d="M713.6,968.7 L713.60,952.70 A16.0,16.0 0 0 1 721.60,954.84 Z" fill="#111"/><path d="M713.6,968.7 L713.60,984.70 A16.0,16.0 0 0 1 705.12,982.27 Z" fill="#111"/><line x1="692.00" y1="968.70" x2="736.00" y2="968.70" stroke="#333" stroke-width="0.6" stroke-dasharray="7 2 1.5 2"/><line x1="713.60" y1="942.00" x2="713.60" y2="996.00" stroke="#333" stroke-width="0.6" stroke-dasharray="7 2 1.5 2"/><circle cx="713.6" cy="968.7" r="2.8" fill="#fff" stroke="#222" stroke-width="0.8"/><path d="M681,951 Q700,950 709.3,964.8" fill="none" stroke="#2e2e2e" stroke-width="0.7"/><path d="M709.60,965.20 L704.02,960.30 L707.26,958.15 Z" fill="#2e2e2e"/><text x="672.50" y="955.50" font-size="12.5" text-anchor="middle" font-weight="normal" font-style="normal" fill="#222">d1</text><line x1="707.20" y1="922.00" x2="707.20" y2="947.00" stroke="#2e2e2e" stroke-width="0.7"/><line x1="721.30" y1="922.00" x2="721.30" y2="947.00" stroke="#2e2e2e" stroke-width="0.7"/><line x1="695.00" y1="927.60" x2="707.20" y2="927.60" stroke="#2e2e2e" stroke-width="0.7"/><path d="M707.20,927.60 L700.00,929.55 L700.00,925.65 Z" fill="#2e2e2e"/><line x1="721.30" y1="927.60" x2="759.20" y2="927.60" stroke="#2e2e2e" stroke-width="0.7"/><path d="M721.30,927.60 L728.50,925.65 L728.50,929.55 Z" fill="#2e2e2e"/><text x="745.60" y="925.00" font-size="13.5" text-anchor="middle" fill="#222">N<tspan font-size="9.7">1</tspan></text><line x1="723.00" y1="947.60" x2="775.00" y2="947.60" stroke="#2e2e2e" stroke-width="0.7"/><line x1="724.00" y1="986.00" x2="775.00" y2="986.00" stroke="#2e2e2e" stroke-width="0.7"/><line x1="771.50" y1="947.60" x2="771.50" y2="986.00" stroke="#2e2e2e" stroke-width="0.7"/><path d="M771.50,947.60 L773.45,954.80 L769.55,954.80 Z" fill="#2e2e2e"/><path d="M771.50,986.00 L769.55,978.80 L773.45,978.80 Z" fill="#2e2e2e"/><text x="766.00" y="968.00" font-size="13.5" text-anchor="middle" fill="#222" transform="rotate(-90 766.00 968.00)">M<tspan font-size="9.7">1</tspan></text><line x1="697.60" y1="976.00" x2="697.60" y2="1022.00" stroke="#2e2e2e" stroke-width="0.7"/><line x1="729.60" y1="976.00" x2="729.60" y2="1022.00" stroke="#2e2e2e" stroke-width="0.7"/><line x1="697.60" y1="1018.30" x2="729.60" y2="1018.30" stroke="#2e2e2e" stroke-width="0.7"/><path d="M697.60,1018.30 L704.80,1016.35 L704.80,1020.25 Z" fill="#2e2e2e"/><path d="M729.60,1018.30 L722.40,1020.25 L722.40,1016.35 Z" fill="#2e2e2e"/><text x="712.80" y="1012.50" font-size="13.5" text-anchor="middle" fill="#222">D<tspan font-size="9.7">1</tspan></text><rect x="61" y="1072" width="875" height="190" fill="#fff"/><rect x="116" y="1072" width="820" height="20" fill="#8f8f8f"/><rect x="116" y="1092" width="820" height="17" fill="#cbedf9"/><rect x="61" y="1109" width="55" height="153" fill="#cbedf9"/><text x="526.00" y="1089.30" font-size="16" text-anchor="middle" font-weight="bold" font-style="normal" fill="#fff">TA... - TC... - TF...</text><line x1="61.00" y1="1109.00" x2="936.00" y2="1109.00" stroke="#7d7d7d" stroke-width="1.3"/><line x1="61.00" y1="1126.00" x2="936.00" y2="1126.00" stroke="#7d7d7d" stroke-width="1.1"/><line x1="61.00" y1="1143.00" x2="936.00" y2="1143.00" stroke="#7d7d7d" stroke-width="1.1"/><line x1="61.00" y1="1160.00" x2="936.00" y2="1160.00" stroke="#7d7d7d" stroke-width="1.1"/><line x1="61.00" y1="1177.00" x2="936.00" y2="1177.00" stroke="#7d7d7d" stroke-width="1.1"/><line x1="61.00" y1="1194.00" x2="936.00" y2="1194.00" stroke="#7d7d7d" stroke-width="1.3"/><line x1="61.00" y1="1211.00" x2="936.00" y2="1211.00" stroke="#7d7d7d" stroke-width="1.1"/><line x1="61.00" y1="1228.00" x2="936.00" y2="1228.00" stroke="#7d7d7d" stroke-width="1.1"/><line x1="61.00" y1="1245.00" x2="936.00" y2="1245.00" stroke="#7d7d7d" stroke-width="1.1"/><line x1="116.00" y1="1092.00" x2="936.00" y2="1092.00" stroke="#7d7d7d" stroke-width="1.1"/><line x1="116.00" y1="1072.00" x2="116.00" y2="1262.00" stroke="#5f6f78" stroke-width="1.2"/><line x1="305.30" y1="1092.00" x2="305.30" y2="1262.00" stroke="#7d7d7d" stroke-width="1.1"/><line x1="494.80" y1="1092.00" x2="494.80" y2="1262.00" stroke="#7d7d7d" stroke-width="1.1"/><line x1="620.80" y1="1092.00" x2="620.80" y2="1262.00" stroke="#7d7d7d" stroke-width="1.1"/><line x1="746.80" y1="1092.00" x2="746.80" y2="1262.00" stroke="#7d7d7d" stroke-width="1.1"/><line x1="872.60" y1="1092.00" x2="872.60" y2="1262.00" stroke="#7d7d7d" stroke-width="1.1"/><line x1="179.30" y1="1194.00" x2="179.30" y2="1262.00" stroke="#7d7d7d" stroke-width="1.0"/><line x1="242.80" y1="1194.00" x2="242.80" y2="1262.00" stroke="#7d7d7d" stroke-width="1.0"/><line x1="368.75" y1="1194.00" x2="368.75" y2="1262.00" stroke="#7d7d7d" stroke-width="1.0"/><line x1="431.00" y1="1194.00" x2="431.00" y2="1262.00" stroke="#7d7d7d" stroke-width="1.0"/><line x1="557.80" y1="1194.00" x2="557.80" y2="1262.00" stroke="#7d7d7d" stroke-width="1.0"/><line x1="684.70" y1="1194.00" x2="684.70" y2="1262.00" stroke="#7d7d7d" stroke-width="1.0"/><line x1="810.80" y1="1194.00" x2="810.80" y2="1262.00" stroke="#7d7d7d" stroke-width="1.0"/><rect x="61" y="1072" width="875" height="190" fill="none" stroke="#7d7d7d" stroke-width="1.2"/><text x="88.50" y="1122.60" font-size="13" text-anchor="middle" font-weight="bold" font-style="normal" fill="#111">D1 h6</text><text x="88.50" y="1139.60" font-size="13" text-anchor="middle" font-weight="bold" font-style="normal" fill="#111">d1</text><text x="88.50" y="1156.60" font-size="13" text-anchor="middle" font-weight="bold" font-style="normal" fill="#111">M1</text><text x="88.50" y="1173.60" font-size="13" text-anchor="middle" font-weight="bold" font-style="normal" fill="#111">N1</text><text x="88.50" y="1190.60" font-size="13" text-anchor="middle" font-weight="bold" font-style="normal" fill="#111">C2</text><text x="88.50" y="1207.60" font-size="13" text-anchor="middle" font-weight="bold" font-style="normal" fill="#111">D2 H7</text><text x="88.50" y="1224.60" font-size="13" text-anchor="middle" font-weight="bold" font-style="normal" fill="#111">M2</text><text x="88.50" y="1241.60" font-size="13" text-anchor="middle" font-weight="bold" font-style="normal" fill="#111">N2</text><text x="88.50" y="1258.60" font-size="13" text-anchor="middle" font-weight="bold" font-style="normal" fill="#111">Z2</text><text x="210.70" y="1106.30" font-size="12.8" text-anchor="middle" font-weight="bold" font-style="normal" fill="#111">80C</text><text x="400.00" y="1106.30" font-size="12.8" text-anchor="middle" font-weight="bold" font-style="normal" fill="#111">100C</text><text x="557.80" y="1106.30" font-size="12.8" text-anchor="middle" font-weight="bold" font-style="normal" fill="#111">125C</text><text x="683.80" y="1106.30" font-size="12.8" text-anchor="middle" font-weight="bold" font-style="normal" fill="#111">160C</text><text x="809.70" y="1106.30" font-size="12.8" text-anchor="middle" font-weight="bold" font-style="normal" fill="#111">180C</text><text x="904.30" y="1106.30" font-size="12.8" text-anchor="middle" font-weight="bold" font-style="normal" fill="#111">200C</text><text x="210.70" y="1122.20" font-size="12" text-anchor="middle" font-weight="normal" font-style="normal" fill="#222">14</text><text x="400.00" y="1122.20" font-size="12" text-anchor="middle" font-weight="normal" font-style="normal" fill="#222">19</text><text x="557.80" y="1122.20" font-size="12" text-anchor="middle" font-weight="normal" font-style="normal" fill="#222">24</text><text x="683.80" y="1122.20" font-size="12" text-anchor="middle" font-weight="normal" font-style="normal" fill="#222">28</text><text x="809.70" y="1122.20" font-size="12" text-anchor="middle" font-weight="normal" font-style="normal" fill="#222">28</text><text x="904.30" y="1122.20" font-size="12" text-anchor="middle" font-weight="normal" font-style="normal" fill="#222">38</text><text x="210.70" y="1139.20" font-size="12" text-anchor="middle" font-weight="normal" font-style="normal" fill="#222">M4x15</text><text x="400.00" y="1139.20" font-size="12" text-anchor="middle" font-weight="normal" font-style="normal" fill="#222">M8x22</text><text x="557.80" y="1139.20" font-size="12" text-anchor="middle" font-weight="normal" font-style="normal" fill="#222">M8x22</text><text x="683.80" y="1139.20" font-size="12" text-anchor="middle" font-weight="normal" font-style="normal" fill="#222">M8x22</text><text x="809.70" y="1139.20" font-size="12" text-anchor="middle" font-weight="normal" font-style="normal" fill="#222">M8x22</text><text x="904.30" y="1139.20" font-size="12" text-anchor="middle" font-weight="normal" font-style="normal" fill="#222">M10x28</text><text x="210.70" y="1156.20" font-size="12" text-anchor="middle" font-weight="normal" font-style="normal" fill="#222">16</text><text x="400.00" y="1156.20" font-size="12" text-anchor="middle" font-weight="normal" font-style="normal" fill="#222">21.5</text><text x="557.80" y="1156.20" font-size="12" text-anchor="middle" font-weight="normal" font-style="normal" fill="#222">27</text><text x="683.80" y="1156.20" font-size="12" text-anchor="middle" font-weight="normal" font-style="normal" fill="#222">31</text><text x="809.70" y="1156.20" font-size="12" text-anchor="middle" font-weight="normal" font-style="normal" fill="#222">31</text><text x="904.30" y="1156.20" font-size="12" text-anchor="middle" font-weight="normal" font-style="normal" fill="#222">41</text><text x="210.70" y="1173.20" font-size="12" text-anchor="middle" font-weight="normal" font-style="normal" fill="#222">5</text><text x="400.00" y="1173.20" font-size="12" text-anchor="middle" font-weight="normal" font-style="normal" fill="#222">6</text><text x="557.80" y="1173.20" font-size="12" text-anchor="middle" font-weight="normal" font-style="normal" fill="#222">8</text><text x="683.80" y="1173.20" font-size="12" text-anchor="middle" font-weight="normal" font-style="normal" fill="#222">8</text><text x="809.70" y="1173.20" font-size="12" text-anchor="middle" font-weight="normal" font-style="normal" fill="#222">8</text><text x="904.30" y="1173.20" font-size="12" text-anchor="middle" font-weight="normal" font-style="normal" fill="#222">10</text><text x="210.70" y="1190.20" font-size="12" text-anchor="middle" font-weight="normal" font-style="normal" fill="#222">130</text><text x="400.00" y="1190.20" font-size="12" text-anchor="middle" font-weight="normal" font-style="normal" fill="#222">155</text><text x="557.80" y="1190.20" font-size="12" text-anchor="middle" font-weight="normal" font-style="normal" fill="#222">180</text><text x="683.80" y="1190.20" font-size="12" text-anchor="middle" font-weight="normal" font-style="normal" fill="#222">220</text><text x="809.70" y="1190.20" font-size="12" text-anchor="middle" font-weight="normal" font-style="normal" fill="#222">260</text><text x="904.30" y="1190.20" font-size="12" text-anchor="middle" font-weight="normal" font-style="normal" fill="#222">300</text><text x="146.20" y="1207.40" font-size="12" text-anchor="middle" font-weight="bold" font-style="normal" fill="#111">32</text><text x="211.00" y="1206.20" font-size="10.2" text-anchor="middle" font-weight="normal" font-style="normal" fill="#222">30</text><text x="274.00" y="1206.20" font-size="10.2" text-anchor="middle" font-weight="normal" font-style="normal" fill="#222">35</text><text x="335.50" y="1207.40" font-size="12" text-anchor="middle" font-weight="bold" font-style="normal" fill="#111">42</text><text x="399.90" y="1206.20" font-size="10.2" text-anchor="middle" font-weight="normal" font-style="normal" fill="#222">40</text><text x="462.90" y="1206.20" font-size="10.2" text-anchor="middle" font-weight="normal" font-style="normal" fill="#222">45</text><text x="524.80" y="1207.40" font-size="12" text-anchor="middle" font-weight="bold" font-style="normal" fill="#111">55</text><text x="589.30" y="1206.20" font-size="10.2" text-anchor="middle" font-weight="normal" font-style="normal" fill="#222">50</text><text x="651.20" y="1207.40" font-size="12" text-anchor="middle" font-weight="bold" font-style="normal" fill="#111">70</text><text x="715.70" y="1206.20" font-size="10.2" text-anchor="middle" font-weight="normal" font-style="normal" fill="#222">60</text><text x="777.30" y="1207.40" font-size="12" text-anchor="middle" font-weight="bold" font-style="normal" fill="#111">90</text><text x="841.70" y="1206.20" font-size="10.2" text-anchor="middle" font-weight="normal" font-style="normal" fill="#222">80</text><text x="902.80" y="1207.40" font-size="12" text-anchor="middle" font-weight="bold" font-style="normal" fill="#111">100</text><text x="147.70" y="1223.80" font-size="12" text-anchor="middle" font-weight="normal" font-style="normal" fill="#222">35.3</text><text x="211.00" y="1223.20" font-size="10.2" text-anchor="middle" font-weight="normal" font-style="normal" fill="#222">33.3</text><text x="274.00" y="1223.20" font-size="10.2" text-anchor="middle" font-weight="normal" font-style="normal" fill="#222">38.3</text><text x="337.00" y="1223.80" font-size="12" text-anchor="middle" font-weight="normal" font-style="normal" fill="#222">45.3</text><text x="399.90" y="1223.20" font-size="10.2" text-anchor="middle" font-weight="normal" font-style="normal" fill="#222">43.3</text><text x="462.90" y="1223.20" font-size="10.2" text-anchor="middle" font-weight="normal" font-style="normal" fill="#222">48.8</text><text x="526.30" y="1223.80" font-size="12" text-anchor="middle" font-weight="normal" font-style="normal" fill="#222">59.3</text><text x="589.30" y="1223.20" font-size="10.2" text-anchor="middle" font-weight="normal" font-style="normal" fill="#222">53.8</text><text x="652.70" y="1223.80" font-size="12" text-anchor="middle" font-weight="normal" font-style="normal" fill="#222">74.9</text><text x="715.70" y="1223.20" font-size="10.2" text-anchor="middle" font-weight="normal" font-style="normal" fill="#222">64.4</text><text x="778.80" y="1223.80" font-size="12" text-anchor="middle" font-weight="normal" font-style="normal" fill="#222">95.4</text><text x="841.70" y="1223.20" font-size="10.2" text-anchor="middle" font-weight="normal" font-style="normal" fill="#222">85.4</text><text x="904.30" y="1223.80" font-size="12" text-anchor="middle" font-weight="normal" font-style="normal" fill="#222">106.4</text><text x="147.70" y="1240.80" font-size="12" text-anchor="middle" font-weight="normal" font-style="normal" fill="#222">10</text><text x="211.00" y="1240.20" font-size="10.2" text-anchor="middle" font-weight="normal" font-style="normal" fill="#222">8</text><text x="274.00" y="1240.20" font-size="10.2" text-anchor="middle" font-weight="normal" font-style="normal" fill="#222">10</text><text x="337.00" y="1240.80" font-size="12" text-anchor="middle" font-weight="normal" font-style="normal" fill="#222">12</text><text x="399.90" y="1240.20" font-size="10.2" text-anchor="middle" font-weight="normal" font-style="normal" fill="#222">12</text><text x="462.90" y="1240.20" font-size="10.2" text-anchor="middle" font-weight="normal" font-style="normal" fill="#222">14</text><text x="526.30" y="1240.80" font-size="12" text-anchor="middle" font-weight="normal" font-style="normal" fill="#222">16</text><text x="589.30" y="1240.20" font-size="10.2" text-anchor="middle" font-weight="normal" font-style="normal" fill="#222">14</text><text x="652.70" y="1240.80" font-size="12" text-anchor="middle" font-weight="normal" font-style="normal" fill="#222">20</text><text x="715.70" y="1240.20" font-size="10.2" text-anchor="middle" font-weight="normal" font-style="normal" fill="#222">18</text><text x="778.80" y="1240.80" font-size="12" text-anchor="middle" font-weight="normal" font-style="normal" fill="#222">25</text><text x="841.70" y="1240.20" font-size="10.2" text-anchor="middle" font-weight="normal" font-style="normal" fill="#222">22</text><text x="904.30" y="1240.80" font-size="12" text-anchor="middle" font-weight="normal" font-style="normal" fill="#222">28</text><text x="147.70" y="1257.80" font-size="12" text-anchor="middle" font-weight="normal" font-style="normal" fill="#222">8.7</text><text x="211.00" y="1257.20" font-size="10.2" text-anchor="middle" font-weight="normal" font-style="normal" fill="#222">8.7</text><text x="274.00" y="1257.20" font-size="10.2" text-anchor="middle" font-weight="normal" font-style="normal" fill="#222">8.4</text><text x="337.00" y="1257.80" font-size="12" text-anchor="middle" font-weight="normal" font-style="normal" fill="#222">11</text><text x="399.90" y="1257.20" font-size="10.2" text-anchor="middle" font-weight="normal" font-style="normal" fill="#222">11</text><text x="462.90" y="1257.20" font-size="10.2" text-anchor="middle" font-weight="normal" font-style="normal" fill="#222">11</text><text x="526.30" y="1257.80" font-size="12" text-anchor="middle" font-weight="normal" font-style="normal" fill="#222">11.9</text><text x="589.30" y="1257.20" font-size="10.2" text-anchor="middle" font-weight="normal" font-style="normal" fill="#222">11.9</text><text x="652.70" y="1257.80" font-size="12" text-anchor="middle" font-weight="normal" font-style="normal" fill="#222">15.4</text><text x="715.70" y="1257.20" font-size="10.2" text-anchor="middle" font-weight="normal" font-style="normal" fill="#222">15.9</text><text x="778.80" y="1257.80" font-size="12" text-anchor="middle" font-weight="normal" font-style="normal" fill="#222">18.9</text><text x="841.70" y="1257.20" font-size="10.2" text-anchor="middle" font-weight="normal" font-style="normal" fill="#222">18.9</text><text x="904.30" y="1257.80" font-size="12" text-anchor="middle" font-weight="normal" font-style="normal" fill="#222">20</text><rect x="61" y="1318" width="874" height="23" fill="#8f8f8f"/><path d="M460.05,1329.78 L459.87,1327.55 L454.32,1323.16 L455.26,1320.88 L462.29,1321.70 L463.99,1320.25 L464.40,1318.05 L460.18,1312.37 L461.67,1310.42 L468.25,1313.03 L470.27,1312.07 L471.23,1310.05 L468.62,1303.47 L470.57,1301.98 L476.25,1306.20 L478.45,1305.79 L479.90,1304.09 L479.08,1297.06 L481.36,1296.12 L485.75,1301.67 L487.98,1301.85 L489.82,1300.58 L490.85,1293.58 L493.29,1293.26 L496.09,1299.76 L498.20,1300.50 L500.31,1299.76 L503.11,1293.26 L505.55,1293.58 L506.58,1300.58 L508.42,1301.85 L510.65,1301.67 L515.04,1296.12 L517.32,1297.06 L516.50,1304.09 L517.95,1305.79 L520.15,1306.20 L525.83,1301.98 L527.78,1303.47 L525.17,1310.05 L526.13,1312.07 L528.15,1313.03 L534.73,1310.42 L536.22,1312.37 L532.00,1318.05 L532.41,1320.25 L534.11,1321.70 L541.14,1320.88 L542.08,1323.16 L536.53,1327.55 L536.35,1329.78 Z" fill="#8f8f8f" stroke="#8f8f8f" stroke-width="1.6" stroke-linejoin="round"/><text x="497.50" y="1322.30" font-size="12.3" text-anchor="middle" font-weight="bold" font-style="normal" fill="#fff">27</text><use href="#wm" x="22.0" y="35.0"/><use href="#wm" x="338.0" y="35.0"/><use href="#wm" x="654.0" y="35.0"/><use href="#wm" x="970.0" y="35.0"/><use href="#wm" x="221.7" y="137.7"/><use href="#wm" x="537.7" y="137.7"/><use href="#wm" x="853.7" y="137.7"/><use href="#wm" x="105.4" y="240.4"/><use href="#wm" x="421.4" y="240.4"/><use href="#wm" x="737.4" y="240.4"/><use href="#wm" x="-10.9" y="343.1"/><use href="#wm" x="305.1" y="343.1"/><use href="#wm" x="621.1" y="343.1"/><use href="#wm" x="937.1" y="343.1"/><use href="#wm" x="188.8" y="445.8"/><use href="#wm" x="504.8" y="445.8"/><use href="#wm" x="820.8" y="445.8"/><use href="#wm" x="72.5" y="548.5"/><use href="#wm" x="388.5" y="548.5"/><use href="#wm" x="704.5" y="548.5"/><use href="#wm" x="-43.8" y="651.2"/><use href="#wm" x="272.2" y="651.2"/><use href="#wm" x="588.2" y="651.2"/><use href="#wm" x="904.2" y="651.2"/><use href="#wm" x="155.9" y="753.9"/><use href="#wm" x="471.9" y="753.9"/><use href="#wm" x="787.9" y="753.9"/><use href="#wm" x="39.6" y="856.6"/><use href="#wm" x="355.6" y="856.6"/><use href="#wm" x="671.6" y="856.6"/><use href="#wm" x="987.6" y="856.6"/><use href="#wm" x="-76.7" y="959.3"/><use href="#wm" x="239.3" y="959.3"/><use href="#wm" x="555.3" y="959.3"/><use href="#wm" x="871.3" y="959.3"/><use href="#wm" x="123.0" y="1062.0"/><use href="#wm" x="439.0" y="1062.0"/><use href="#wm" x="755.0" y="1062.0"/><use href="#wm" x="6.7" y="1164.7"/><use href="#wm" x="322.7" y="1164.7"/><use href="#wm" x="638.7" y="1164.7"/><use href="#wm" x="954.7" y="1164.7"/><use href="#wm" x="206.4" y="1267.4"/><use href="#wm" x="522.4" y="1267.4"/><use href="#wm" x="838.4" y="1267.4"/><use href="#wm" x="90.1" y="1370.1"/><use href="#wm" x="406.1" y="1370.1"/><use href="#wm" x="722.1" y="1370.1"/></svg></body></html>
